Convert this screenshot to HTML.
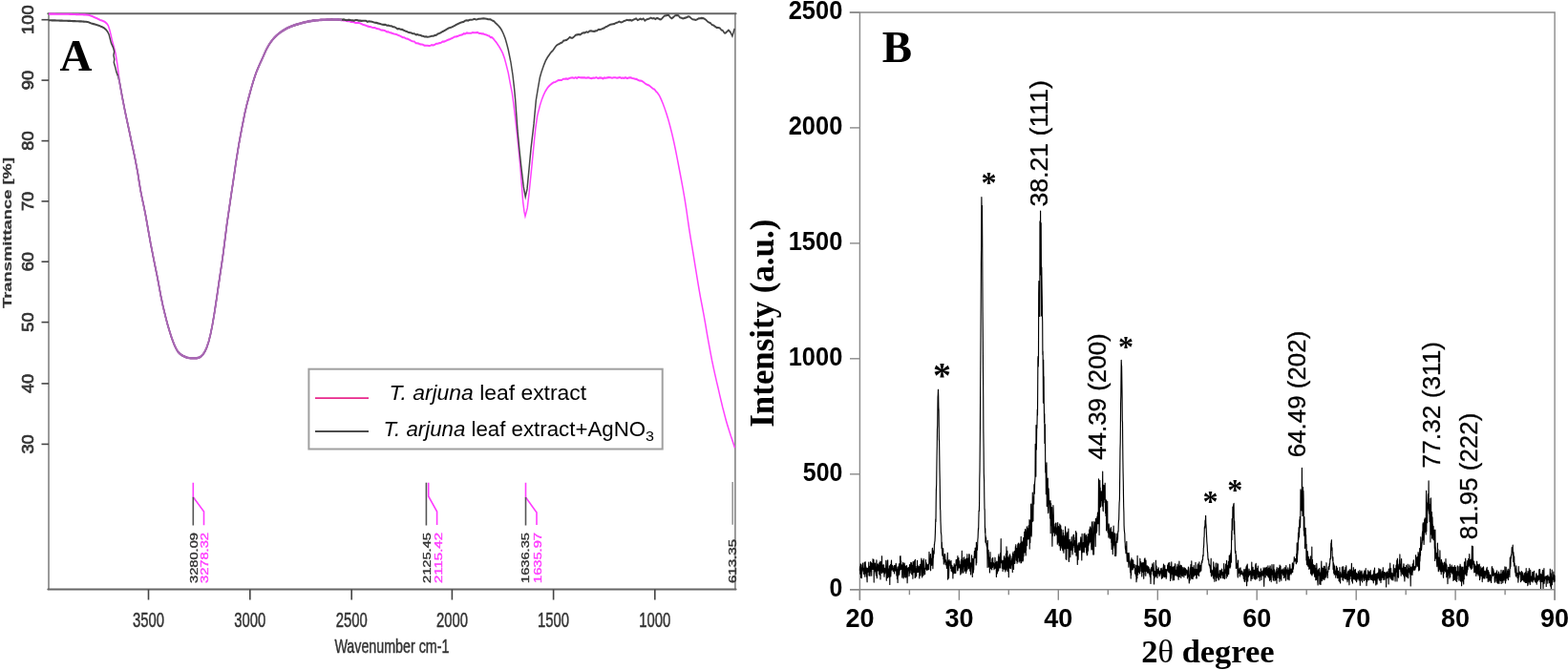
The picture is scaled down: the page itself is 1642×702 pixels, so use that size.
<!DOCTYPE html>
<html><head><meta charset="utf-8"><title>FTIR and XRD</title>
<style>html,body{margin:0;padding:0;background:#fff;overflow:hidden}svg{display:block}</style>
</head><body>
<svg width="1642" height="702" viewBox="0 0 1642 702">
<rect width="1642" height="702" fill="#fff"/>
<g fill="none" stroke-width="2" stroke-linejoin="round" stroke-linecap="round">
<path d="M51,617.4 V14.3 M769.9,14.3 V617.4" stroke="#7a7a7a" stroke-width="1.5"/>
<path d="M50.3,14.3 H770.6 M50.3,617.4 H770.6" stroke="#666"/>
</g>
<g stroke="#444" stroke-width="1.6">
<line x1="43.5" y1="20.7" x2="51" y2="20.7"/>
<line x1="43.5" y1="84.1" x2="51" y2="84.1"/>
<line x1="43.5" y1="147.6" x2="51" y2="147.6"/>
<line x1="43.5" y1="210.9" x2="51" y2="210.9"/>
<line x1="43.5" y1="274.2" x2="51" y2="274.2"/>
<line x1="43.5" y1="337.6" x2="51" y2="337.6"/>
<line x1="43.5" y1="401.9" x2="51" y2="401.9"/>
<line x1="43.5" y1="465.4" x2="51" y2="465.4"/>
</g>
<g font-family="'Liberation Sans', Arial, sans-serif" font-size="16" fill="#333" stroke="#333" stroke-width="0.7" text-anchor="middle">
<text x="0" y="0" transform="translate(34.8,20.7) rotate(-90)" textLength="30.5" lengthAdjust="spacingAndGlyphs">100</text>
<text x="0" y="0" transform="translate(34.8,84.1) rotate(-90)" textLength="20.3" lengthAdjust="spacingAndGlyphs">90</text>
<text x="0" y="0" transform="translate(34.8,147.6) rotate(-90)" textLength="20.3" lengthAdjust="spacingAndGlyphs">80</text>
<text x="0" y="0" transform="translate(34.8,210.9) rotate(-90)" textLength="20.3" lengthAdjust="spacingAndGlyphs">70</text>
<text x="0" y="0" transform="translate(34.8,274.2) rotate(-90)" textLength="20.3" lengthAdjust="spacingAndGlyphs">60</text>
<text x="0" y="0" transform="translate(34.8,337.6) rotate(-90)" textLength="20.3" lengthAdjust="spacingAndGlyphs">50</text>
<text x="0" y="0" transform="translate(34.8,401.9) rotate(-90)" textLength="20.3" lengthAdjust="spacingAndGlyphs">40</text>
<text x="0" y="0" transform="translate(34.8,465.4) rotate(-90)" textLength="20.3" lengthAdjust="spacingAndGlyphs">30</text>
</g>
<g stroke="#444" stroke-width="1.6">
<line x1="155.5" y1="617.5" x2="155.5" y2="628.5"/>
<line x1="261.8" y1="617.5" x2="261.8" y2="628.5"/>
<line x1="368.2" y1="617.5" x2="368.2" y2="628.5"/>
<line x1="473.4" y1="617.5" x2="473.4" y2="628.5"/>
<line x1="579.6" y1="617.5" x2="579.6" y2="628.5"/>
<line x1="685.8" y1="617.5" x2="685.8" y2="628.5"/>
</g>
<g font-family="'Liberation Sans', Arial, sans-serif" font-size="22" fill="#333" stroke="#333" stroke-width="0.5" text-anchor="middle">
<text x="155.5" y="656.5" textLength="33" lengthAdjust="spacingAndGlyphs">3500</text>
<text x="261.8" y="656.5" textLength="33" lengthAdjust="spacingAndGlyphs">3000</text>
<text x="368.2" y="656.5" textLength="33" lengthAdjust="spacingAndGlyphs">2500</text>
<text x="473.4" y="656.5" textLength="33" lengthAdjust="spacingAndGlyphs">2000</text>
<text x="579.6" y="656.5" textLength="33" lengthAdjust="spacingAndGlyphs">1500</text>
<text x="685.8" y="656.5" textLength="33" lengthAdjust="spacingAndGlyphs">1000</text>
<text x="410.4" y="684" font-size="21" textLength="120" lengthAdjust="spacingAndGlyphs">Wavenumber cm-1</text>
</g>
<text transform="translate(12.2,244) rotate(-90)" font-family="'Liberation Sans', Arial, sans-serif" font-size="12.5" font-weight="bold" fill="#333" stroke="#333" stroke-width="0.2" text-anchor="middle" textLength="158" lengthAdjust="spacingAndGlyphs">Transmittance [%]</text>
<g transform="scale(0.7,1)" fill="none">
<path d="M72.9,14.6 74.2,14.6 75.8,14.6 77.7,14.6 79.8,14.6 82.2,14.6 84.6,14.7 87.2,14.7 89.8,14.7 92.5,14.7 95.1,14.7 97.6,14.8 100,14.8 102.2,14.8 104.5,14.9 106.9,14.9 109.4,15 111.9,15 114.3,15.1 116.7,15.1 119.1,15.2 121.3,15.2 123.4,15.3 125.3,15.4 127.1,15.4 128.6,15.5 132.5,15.8 134,16 135.7,16.5 137.8,17 140.1,17.7 142.3,18.4 144.3,19 147.2,20 150,21 152.4,21.6 154.9,22.2 157.1,23 160,24.8 162.1,27 164.3,32 165.7,36 167.9,43 170.7,50 172.9,56 174.3,62 175.7,68 177.1,76 178.6,85 180.4,92.5 183,102.4 186.6,115 188.6,121.8 191,129.6 193.6,138.1 196.2,146.9 198.8,155.4 201.2,163.2 203.1,170 206.3,182 208.3,191.3 210.4,200 212.8,208.5 215.3,216.5 217.7,225 220.1,234.4 222.6,244.4 225.3,255 227.7,263.5 230.2,272.5 232.8,281.5 235.3,290 238.1,300.5 240.7,310.4 243.6,320 246,327.2 248.5,334.2 251.1,341 253.7,347.1 256.2,352.7 258.8,357.8 261.3,362.2 263.9,365.9 266.3,368.6 268.7,370.4 271.2,371.8 274,372.9 276,373.6 278.2,374.2 280.5,374.7 282.8,375 285.2,375.2 287.4,375.3 289.7,375.3 292.1,375.3 294.5,375.1 296.8,374.7 298.9,374.2 300.9,373.4 304.1,371 306.9,367.8 309.3,364 312.3,357.7 315,350 317.6,341 320.3,330 322.3,320.9 324.5,310.7 326.7,300 329.1,288.5 331.7,276.5 334,265 336.6,250.6 339.4,235 341.6,224.5 344.1,212.5 346.6,200.5 348.9,190 351.2,178.7 353.2,169.1 355.3,160 357.4,151 359.6,142.4 361.9,134 364.1,126.1 366.3,118.4 369.1,110 371.3,104.2 373.7,98 376.2,91.6 378.8,85.5 381.3,80 383.7,75.2 386.3,70.9 388.7,67 391.1,63.4 393.3,60 395.6,56.3 397.6,53.1 399.6,50.3 401.9,47.5 403.9,45.3 406,43.3 408.2,41.3 410.6,39.4 413.1,37.6 415.1,36.3 417.2,35.1 419.5,33.9 421.7,32.8 424.1,31.7 426.5,30.7 428.9,29.8 431,29.1 433.1,28.4 435.2,27.8 437.4,27.2 439.6,26.6 441.9,26.1 444.2,25.6 446.7,25.1 448.7,24.7 450.8,24.3 452.8,23.9 454.9,23.5 457.1,23.1 459.3,22.8 461.6,22.4 464,22.1 466.5,21.9 469.1,21.6 471.1,21.4 473.3,21.3 475.5,21.1 477.8,21 480.2,20.9 482.6,20.8 485.1,20.7 487.5,20.6 489.9,20.5 492.2,20.5 494.4,20.4 496.6,20.4 498.6,20.4 500.4,20.4 503.3,20.5 505.9,20.6 508.2,20.7 510.3,20.9 512.3,21.2 514.2,21.4 516.3,21.3 518.4,22 520.6,22.1 522.8,22.3 524.9,22.9 527.1,22.9 529.3,23.1 531.5,24 533.8,23.8 536.3,24 538.4,24.3 540.5,24.9 542.8,25.7 545.1,26.2 547.4,26.7 549.7,27.4 552,27.9 554.3,28.1 556.6,28.7 558.7,29 561,29.1 563.3,29.9 565.5,30.2 567.6,30.5 569.8,31.5 571.9,31.6 574.1,31.7 576.3,32.3 578.6,33.4 580.7,33.2 582.8,34 585,34.4 587.2,34.9 589.5,35.5 591.7,35.7 593.8,36.3 596,36.9 598,37.4 600,38.2 602.4,39.1 604.7,39.2 607,40.2 609.2,40.6 611.3,41.3 613.4,42.1 615.3,42.8 617.1,43.2 619.8,43.4 622,45.1 624.1,45.2 626.2,45.6 628.6,46.4 630.6,46.5 632.7,46.7 634.7,47.6 637,47.8 639.4,47.7 642,48 643.9,47.7 646,47.1 648.1,47.5 650.4,46.7 652.7,45.8 655,45.7 657.4,45.1 659.8,44.7 662.1,43.6 664.3,43.6 666.5,43 668.7,42.3 670.9,41.6 673.2,41.1 675.5,40.2 677.8,39.4 680,38.5 682.3,38.4 684.6,37.9 686.8,37.2 689.1,36.7 691.4,36.4 693.8,35.2 696.1,35.5 698.4,34.4 700.6,34.8 702.8,34.8 704.9,34.8 707,34.1 709.5,34.3 711.9,34.2 714.3,33.9 716.7,34.9 718.9,35 721,35.4 723,35.4 724.9,36 727.5,36.5 729.8,37.3 731.8,37.6 733.8,39.1 735.7,39.1 738.2,40.7 740.5,42.7 742.7,44.6 744.9,46.9 747.5,49.8 750,52.8 752.1,55.9 754.7,61 756.7,66.2 760.4,76.4 763.1,86.7 766,96.9 768.3,108.5 770.5,121.2 773,137 775.7,155 778.3,174 782.3,211 784.3,222 785.7,226.5 787.1,223 788.9,218 791.6,201.9 795.6,174 799.4,146.3 801.1,135 803.9,121.2 808,109.8 810.4,104.6 813,99.9 815.8,95.7 819.1,92 821.1,90.4 823.3,88.8 825.7,87.5 828.3,86.3 830.5,86 832.7,85.1 835.1,84.1 837.7,84 840.4,83.9 842.5,82.7 844.7,82.8 847,82.4 849.4,82.8 851.8,82 854.3,81.5 856.7,81.2 858.8,81.9 861,81.1 863.1,82 865.2,80.8 867.5,81.3 869.8,81.4 872.2,81.3 874.9,81.4 876.8,81.7 878.9,81.4 880.9,81.2 883.1,82 885.2,82.1 887.5,81.5 889.8,81.8 892.2,81 894.7,82.1 897.3,81.4 900,81.6 902,82.5 904,81.4 906.2,81.8 908.5,81.4 910.9,81.1 913.3,81.3 915.7,81.7 918.1,81.2 920.5,81.3 922.9,81.7 925.2,81.4 927.5,81 929.7,81.9 931.7,81.5 933.7,81.9 935.4,81.2 938.6,82.1 941.3,81.3 943.8,81.4 946,82 948.1,82.2 950.1,82.7 952.1,82.9 954.3,83.7 956.5,84.5 958.8,84.6 961.1,85.2 963.3,86.3 965.4,87.6 967.5,88.5 969.5,89 971.4,89.7 974.2,91.3 976.8,92.9 979.2,93.7 981.5,95.8 983.6,97.2 986.6,100.4 989.1,104.1 991.7,108.5 994.4,113.6 997.1,119.3 999.9,125.6 1002.6,132.6 1005.3,140.2 1008,148.4 1010.7,157.4 1013.4,167 1016.1,176.9 1018.9,187.1 1021.7,197.7 1024.3,208.2 1026.7,219 1028.9,229.9 1030.9,239.5 1033.1,249.2 1035.7,260 1037.8,268.9 1040.2,279.4 1042.7,290.2 1045,300 1047.6,310.4 1050.1,319.6 1052.9,330 1055.3,339.5 1057.8,350 1060.5,360.5 1063,370 1065.2,378 1067.3,385 1069.5,392 1072.1,400 1074.2,406.2 1076.4,413 1078.8,420.1 1081.2,427.1 1083.7,433.8 1086,440 1088.4,445.8 1091,451.6 1093.5,457.1 1095.9,462 1097.8,466.1 1099.3,469.2" stroke="#ff40ff" stroke-width="2.1"/>
<path d="M72.9,21.3 74.2,21.3 75.8,21.3 77.7,21.4 79.8,21.4 82.2,21.4 84.6,21.5 87.2,21.5 89.8,21.6 92.5,21.6 95.1,21.7 97.6,21.7 100,21.8 102.2,21.9 104.5,21.9 106.9,22 109.4,22.1 111.9,22.1 114.3,22.2 116.7,22.3 119.1,22.4 121.3,22.4 123.4,22.5 125.3,22.6 127.1,22.7 128.6,22.8 132.5,23.3 134,23.8 135.7,24.3 137.8,24.7 139.9,25.1 142.1,25.5 144.3,26 146.5,26.5 148.8,27.1 150.9,27.7 152.9,28.3 156,29.5 158.6,31 160.9,33.1 162.9,36 166.3,45 169.4,50 170.9,54 169.9,58 171.1,62 170.4,65.5 172.3,70 174,75 176.3,79.5 178.6,85 180.5,92.3 183.1,102.2 186.6,115 188.6,121.8 191,129.6 193.6,138.1 196.2,146.9 198.8,155.4 201.2,163.2 203.1,170 206.3,182 208.3,191.3 210.4,200 212.8,208.5 215.3,216.5 217.7,225 220.1,234.4 222.6,244.4 225.3,255 227.7,263.5 230.2,272.5 232.8,281.5 235.3,290 238.1,300.5 240.7,310.4 243.6,320 246,327.2 248.5,334.2 251.1,341 253.7,347.1 256.2,352.7 258.8,357.8 261.3,362.2 263.9,365.9 266.3,368.6 268.7,370.4 271.2,371.8 274,372.9 276,373.6 278.2,374.2 280.5,374.7 282.8,375 285.2,375.2 287.4,375.3 289.7,375.3 292.1,375.3 294.5,375.1 296.8,374.7 298.9,374.2 300.9,373.4 304.1,371 306.9,367.8 309.3,364 312.3,357.7 315,350 317.6,341 320.3,330 322.3,320.9 324.5,310.7 326.7,300 329.1,288.5 331.7,276.5 334,265 336.6,250.6 339.4,235 341.6,224.5 344.1,212.5 346.6,200.5 348.9,190 351.2,178.7 353.2,169.1 355.3,160 357.4,151 359.6,142.4 361.9,134 364.1,126.1 366.3,118.4 369.1,110 371.3,104.2 373.7,98 376.2,91.6 378.8,85.5 381.3,80 383.7,75.2 386.3,70.9 388.7,67 391.1,63.4 393.3,60 395.6,56.3 397.6,53.1 399.6,50.3 401.9,47.5 403.9,45.3 406,43.3 408.2,41.3 410.6,39.4 413.1,37.6 415.1,36.3 417.2,35.1 419.5,33.9 421.7,32.8 424.1,31.7 426.5,30.7 428.9,29.8 431,29.1 433.1,28.4 435.2,27.8 437.4,27.2 439.6,26.6 441.9,26.1 444.2,25.6 446.7,25.1 448.7,24.7 450.8,24.3 452.8,23.9 454.9,23.5 457.1,23.1 459.3,22.8 461.6,22.4 464,22.1 466.5,21.9 469.1,21.6 471.1,21.4 473.2,21.3 475.4,21.2 477.6,21 479.9,20.9 482.3,20.8 484.6,20.7 487,20.7 489.4,20.6 491.7,20.5 494,20.5 496.2,20.4 498.4,20.4 500.4,20.4 502.9,20.4 505.4,20.4 507.7,20.5 510,20.5 512.2,20.6 514.4,20.4 516.6,20.9 518.8,21.2 520.9,20.9 523,20.8 525.1,21.2 527.5,21.4 529.8,21.6 532,21 534.2,21 536.4,21.6 538.6,21.6 540.8,21.9 543,21.8 545.2,21.7 547.4,21.8 549.7,22.8 551.9,22.3 554.1,22.5 556.4,22.7 558.6,23.3 560.9,23.7 563.1,23.9 565.4,24.4 567.6,24.8 569.9,25.3 572.1,25.7 574.3,25.9 576.6,25.7 578.8,26.7 581.1,26.6 583.3,27.2 585.6,27.3 587.8,28.1 590,28.3 592.3,29.1 594.6,30.3 596.9,30 599.2,30.8 601.6,30.9 604,31.8 606.3,32.6 608.5,33 610.6,33.7 612.7,34.1 614.6,34.2 617.4,35.2 620,35.3 622.4,36.4 624.6,36.1 626.6,36.7 628.6,36.8 631.1,37.6 633.1,37.7 635.1,38.5 637.6,38.4 639.5,38.7 641.4,38.5 643.5,38.2 645.7,37.7 648.2,37.7 651,36.9 652.9,36.7 654.9,35.5 657,35 659.3,34.2 661.6,33.3 663.9,32.4 666.3,31.5 668.7,30.5 671,29.5 673.3,28.9 675.5,28.4 677.8,27.8 680,26.9 682.2,26.1 684.5,25.3 686.7,24.5 689,23.7 691.2,23.2 693.5,22.9 695.7,21.8 698,21.3 700.3,21.6 702.7,20.8 705,20.7 707.3,20.5 709.7,19.8 711.9,20.5 714.1,20.2 716.2,19.7 718.1,19.8 720.8,19.5 723.3,19.3 725.7,19.5 727.9,19.7 730,20.1 732,20.2 733.9,20.4 736.6,21.6 738.9,22.2 741,23.9 743,25.1 745.7,27 748.2,29.1 750.4,31.5 753.3,35.7 755.9,40.5 758.2,46.1 760.4,52.1 764.1,64.9 766.9,77.7 769.3,92 770.9,104 774.3,137 776.9,156.2 779.6,174 783.3,196 786,206 788.6,198 791.6,176 794.4,155 798.6,130 801.9,105 804.7,93 807.6,81.4 809.8,75.9 812.4,70.5 814.2,67.1 816.2,63.7 819.1,60 820.9,58.2 822.8,56.3 825,54.3 827.3,52.8 829.7,50.2 832.2,47.8 834.6,46.6 836.7,45.9 838.8,45 840.9,44.6 843.1,42.6 845.3,42.3 847.6,41.9 850,40.7 852.4,38.9 854.5,39.7 856.6,39.7 858.9,38.4 861.1,36.8 863.4,36.4 865.8,36 868.1,36.4 870.4,35 872.7,34.2 875,34.4 877.3,33.3 879.6,33.9 882,32.5 884.3,32.4 886.6,32.8 888.9,32.9 891.2,32.4 893.4,32 895.5,30.8 897.4,31 899.9,30.4 902.1,29.7 904,29.4 906,28.2 908,27.8 910.4,26.7 913.1,25.8 915,25.5 917.1,25.2 919.3,24.9 921.6,23.9 924,23.5 926.4,22.6 928.9,23.5 931.3,23 933.7,21.9 935.9,21.4 938,20.8 940,21.2 942.7,20.9 945.1,21.6 947.4,20.7 949.6,20.1 951.7,19.4 953.8,21.1 955.8,20.5 957.9,19.7 960.2,20.4 962.5,19.4 964.7,21.6 967,20.4 969.2,20 971.4,19.6 973.6,18.6 975.9,19.5 978.2,19 980.6,20 982.9,18.9 985.2,19.5 987.3,20.4 989.1,20.3 991.9,18.1 994.2,16.5 996.2,16.4 998.1,15.8 1000.5,16 1002.6,18.2 1004.9,19.3 1007.4,18 1010,16.2 1012.7,16 1014.9,16.3 1017.1,18.3 1019.4,18.7 1021.6,19.5 1024.1,18.9 1026.6,18.4 1029.4,17.4 1031.5,17.5 1033.8,19.2 1036.2,20.2 1038.6,20.5 1040.7,21 1043.1,20.3 1045.3,19.4 1047.4,19.2 1049.6,18.9 1051.8,19.1 1053.9,19.8 1056.2,20.9 1058.6,22.7 1060.7,23.6 1062.9,24.3 1065.1,26.1 1067.4,26.5 1069.7,27.7 1072.1,28.9 1074.5,29 1077,29.5 1079.2,31.6 1081,31.8 1083.6,34.4 1085.4,34.7 1087.6,33.1 1089.9,31.6 1092.8,33.8 1095.6,37.9 1098.9,29.8" stroke="#454545" stroke-width="2.1"/>
<path d="M177.1,79 178.6,85 180.4,92.3 183,102.3 186.6,115 188.6,121.8 191,129.6 193.6,138.1 196.2,146.9 198.8,155.4 201.2,163.2 203.1,170 206.3,182 208.3,191.3 210.4,200 212.8,208.5 215.3,216.5 217.7,225 220.1,234.4 222.6,244.4 225.3,255 227.7,263.5 230.2,272.5 232.8,281.5 235.3,290 238.1,300.5 240.7,310.4 243.6,320 246,327.2 248.5,334.2 251.1,341 253.7,347.1 256.2,352.7 258.8,357.8 261.3,362.2 263.9,365.9 266.3,368.6 268.7,370.4 271.2,371.8 274,372.9 276,373.6 278.2,374.2 280.5,374.7 282.8,375 285.2,375.2 287.4,375.3 289.7,375.3 292.1,375.3 294.5,375.1 296.8,374.7 298.9,374.2 300.9,373.4 304.1,371 306.9,367.8 309.3,364 312.3,357.7 315,350 317.6,341 320.3,330 322.3,320.9 324.5,310.7 326.7,300 329.1,288.5 331.7,276.5 334,265 336.6,250.6 339.4,235 341.6,224.5 344.1,212.5 346.6,200.5 348.9,190 351.2,178.7 353.2,169.1 355.3,160 357.4,151 359.6,142.4 361.9,134 364.1,126.1 366.3,118.4 369.1,110 371.3,104.2 373.7,98 376.2,91.6 378.8,85.5 381.3,80 383.7,75.2 386.3,70.9 388.7,67 391.1,63.4 393.3,60 395.6,56.3 397.6,53.1 399.6,50.3 401.9,47.5 403.9,45.3 406,43.3 408.2,41.3 410.6,39.4 413.1,37.6 415.1,36.3 417.2,35.1 419.5,33.9 421.7,32.8 424.1,31.7 426.5,30.7 428.9,29.8 431,29.1 433.1,28.4 435.2,27.8 437.4,27.2 439.6,26.6 441.9,26.1 444.2,25.6 446.7,25.1 448.7,24.7 450.8,24.3 452.8,23.9 454.9,23.5 457.1,23.1 459.3,22.8 461.6,22.4 464,22.1 466.5,21.9 469.1,21.6 471.2,21.4 473.3,21.3 475.6,21.2 478,21 480.5,20.9 483,20.8 485.5,20.7 488,20.7 490.4,20.6 492.7,20.5 494.9,20.5 496.9,20.5 498.8,20.4 500.4,20.4 504.1,20.4 506.8,20.5 508.8,20.7 510.3,20.9 511.4,21" stroke="#a868b4" stroke-width="2.6"/>
</g>
<g fill="none" stroke-width="1.6">
<path d="M202.3,505.7 V520.8 L213.5,536 V550.2" stroke="#ff3cff"/>
<path d="M202.3,520.8 V550.5" stroke="#555"/>
<path d="M446.4,505.7 V550.5" stroke="#555"/>
<path d="M448.7,505.7 V520 L457.6,536 V550" stroke="#ff3cff"/>
<path d="M550.5,505.7 V521 L562,537 V550" stroke="#ff3cff"/>
<path d="M550.5,521 V550.5" stroke="#555"/>
<path d="M767.2,505 V549.7" stroke="#999"/>
</g>
<g font-family="'Liberation Sans', Arial, sans-serif" font-size="10.3" stroke-width="0.35">
<text transform="translate(206.7,611) rotate(-90)" fill="#333" stroke="#333" textLength="53" lengthAdjust="spacingAndGlyphs">3280.09</text>
<text transform="translate(218.3,611) rotate(-90)" fill="#ff3cff" stroke="#ff3cff" textLength="53" lengthAdjust="spacingAndGlyphs">3278.32</text>
<text transform="translate(451.4,611) rotate(-90)" fill="#333" stroke="#333" textLength="53" lengthAdjust="spacingAndGlyphs">2125.45</text>
<text transform="translate(463,611) rotate(-90)" fill="#ff3cff" stroke="#ff3cff" textLength="53" lengthAdjust="spacingAndGlyphs">2115.42</text>
<text transform="translate(554,611) rotate(-90)" fill="#333" stroke="#333" textLength="53" lengthAdjust="spacingAndGlyphs">1636.35</text>
<text transform="translate(566.5,611) rotate(-90)" fill="#ff3cff" stroke="#ff3cff" textLength="53" lengthAdjust="spacingAndGlyphs">1635.97</text>
<text transform="translate(771,611) rotate(-90)" fill="#333" stroke="#333" textLength="46" lengthAdjust="spacingAndGlyphs">613.35</text>
</g>
<rect x="323.4" y="386.7" width="370.3" height="83.8" fill="#fff" stroke="#a0a0a0" stroke-width="2"/>
<line x1="330" y1="417.1" x2="386" y2="417.1" stroke="#e8288c" stroke-width="1.6"/>
<line x1="330" y1="452" x2="386" y2="452" stroke="#111" stroke-width="1.6"/>
<g font-family="'Liberation Sans', Calibri, sans-serif" font-size="21.5" fill="#000">
<text x="407.6" y="418.9" textLength="206.5" lengthAdjust="spacingAndGlyphs"><tspan font-style="italic">T. arjuna</tspan> leaf extract</text>
<text x="401.5" y="456.5" textLength="283.5" lengthAdjust="spacingAndGlyphs"><tspan font-style="italic">T. arjuna</tspan> leaf extract+AgNO<tspan font-size="15.5" dy="5.5">3</tspan></text>
</g>
<text x="62.4" y="74.3" font-family="'Liberation Serif', 'Times New Roman', serif" font-weight="bold" font-size="47">A</text>
<g fill="none" stroke="#8a8a8a" stroke-width="1.4">
<path d="M889.7,13 H1628.1 V628.8"/>
<path d="M900.4,13 V628.8"/>
<path d="M890,617.7 H1628.1"/>
<path d="M890,617.7 H900.4"/>
<path d="M890,496.8 H900.4"/>
<path d="M890,375.8 H900.4"/>
<path d="M890,254.9 H900.4"/>
<path d="M890,133.9 H900.4"/>
<path d="M890,13 H900.4"/>
<path d="M900.4,617.7 V628.8"/>
<path d="M952.4,617.7 V623.2"/>
<path d="M1004.4,617.7 V628.8"/>
<path d="M1056.3,617.7 V623.2"/>
<path d="M1108.3,617.7 V628.8"/>
<path d="M1160.3,617.7 V623.2"/>
<path d="M1212.3,617.7 V628.8"/>
<path d="M1264.2,617.7 V623.2"/>
<path d="M1316.2,617.7 V628.8"/>
<path d="M1368.2,617.7 V623.2"/>
<path d="M1420.2,617.7 V628.8"/>
<path d="M1472.2,617.7 V623.2"/>
<path d="M1524.1,617.7 V628.8"/>
<path d="M1576.1,617.7 V623.2"/>
<path d="M1628.1,617.7 V628.8"/>
</g>
<g font-family="'Liberation Sans', Arial, sans-serif" font-weight="bold" font-size="27" fill="#000">
<text x="868.5" y="625" font-size="28" textLength="13.8" lengthAdjust="spacingAndGlyphs">0</text>
<text x="840.8" y="504.1" font-size="28" textLength="41.5" lengthAdjust="spacingAndGlyphs">500</text>
<text x="825.7" y="383.1" font-size="28" textLength="56.6" lengthAdjust="spacingAndGlyphs">1000</text>
<text x="825.7" y="262.2" font-size="28" textLength="56.6" lengthAdjust="spacingAndGlyphs">1500</text>
<text x="825.7" y="141.2" font-size="28" textLength="56.6" lengthAdjust="spacingAndGlyphs">2000</text>
<text x="825.7" y="20.3" font-size="28" textLength="56.6" lengthAdjust="spacingAndGlyphs">2500</text>
<text x="900.4" y="657.4" text-anchor="middle">20</text>
<text x="1004.4" y="657.4" text-anchor="middle">30</text>
<text x="1108.3" y="657.4" text-anchor="middle">40</text>
<text x="1212.3" y="657.4" text-anchor="middle">50</text>
<text x="1316.2" y="657.4" text-anchor="middle">60</text>
<text x="1420.2" y="657.4" text-anchor="middle">70</text>
<text x="1524.1" y="657.4" text-anchor="middle">80</text>
<text x="1628.1" y="657.4" text-anchor="middle">90</text>
</g>
<text x="1195.3" y="694.1" font-family="'Liberation Serif', 'Times New Roman', serif" font-weight="bold" font-size="34" textLength="139.3" lengthAdjust="spacingAndGlyphs">2<tspan font-weight="normal">θ</tspan> degree</text>
<text transform="translate(809.7,447.7) rotate(-90)" font-family="'Liberation Serif', 'Times New Roman', serif" font-weight="bold" font-size="35" textLength="218" lengthAdjust="spacingAndGlyphs">Intensity (a.u.)</text>
<text x="923.8" y="64.6" font-family="'Liberation Serif', 'Times New Roman', serif" font-weight="bold" font-size="47">B</text>
<path d="M900.4,597.7 900.6,593.6 900.8,601.3 901,597.5 901.2,590.8 901.4,595 901.6,605.2 901.9,591.8 902.1,605.4 902.3,605.7 902.5,594.7 902.7,596.6 902.9,594.7 903.1,594.2 903.3,593.4 903.5,590 903.7,598.2 903.9,596.9 904.1,598.7 904.4,601.5 904.6,600.7 904.8,595.1 905,596.1 905.2,589.4 905.4,596.9 905.6,600.7 905.8,604.2 906,591.9 906.2,588.7 906.4,594.4 906.6,593.1 906.8,599.6 907.1,601.5 907.3,599.2 907.5,604.2 907.7,595.1 907.9,606.5 908.1,609.8 908.3,596.6 908.5,599.5 908.7,595.6 908.9,596.1 909.1,599.2 909.3,594.9 909.5,598 909.8,589.1 910,603 910.2,600.7 910.4,593.8 910.6,594.5 910.8,593.7 911,603.5 911.2,600.6 911.4,593.9 911.6,588.6 911.8,598.8 912,597.2 912.3,598 912.5,589.7 912.7,603.2 912.9,590.4 913.1,591.8 913.3,595.6 913.5,593.3 913.7,593.4 913.9,596.4 914.1,585.7 914.3,594.7 914.5,596.5 914.7,591.5 915,586.6 915.2,610.1 915.4,594.3 915.6,595.1 915.8,598 916,590.2 916.2,598.4 916.4,590 916.6,595.3 916.8,597.8 917,600.3 917.2,595.5 917.4,602.9 917.7,594.8 917.9,586.8 918.1,593 918.3,605.7 918.5,602 918.7,592.2 918.9,595.7 919.1,590.8 919.3,598 919.5,591.6 919.7,597.8 919.9,595.2 920.2,593 920.4,593.2 920.6,601.6 920.8,589.7 921,592.5 921.2,596.4 921.4,602.5 921.6,601.2 921.8,588.1 922,606.9 922.2,588.9 922.4,594.3 922.6,594.3 922.9,590.4 923.1,588.5 923.3,600.4 923.5,582.7 923.7,597.8 923.9,591.2 924.1,598.7 924.3,595.5 924.5,592.5 924.7,600 924.9,598.6 925.1,592.2 925.3,599.1 925.6,591.9 925.8,599.6 926,604.2 926.2,598.2 926.4,595.4 926.6,599.6 926.8,600.9 927,598.1 927.2,595.9 927.4,598.9 927.6,598 927.8,587.4 928.1,595.7 928.3,608.2 928.5,602.8 928.7,596.7 928.9,602.4 929.1,597.7 929.3,587.4 929.5,605.4 929.7,586.9 929.9,600 930.1,598.4 930.3,595.7 930.5,601 930.8,604.6 931,598.1 931.2,604.1 931.4,592.8 931.6,597.2 931.8,612.5 932,595.2 932.2,602.3 932.4,593.8 932.6,591.5 932.8,604 933,600.1 933.3,589.9 933.5,587.1 933.7,597.3 933.9,596.6 934.1,594.9 934.3,592.6 934.5,592.4 934.7,596.6 934.9,593.4 935.1,597.1 935.3,598.6 935.5,598.3 935.7,595.5 936,595.7 936.2,598.5 936.4,592.6 936.6,600.9 936.8,592.7 937,598.3 937.2,596.2 937.4,593.9 937.6,595 937.8,592 938,598 938.2,590.3 938.4,591.9 938.7,597.1 938.9,603.1 939.1,594.1 939.3,597.4 939.5,606.5 939.7,596.1 939.9,602.2 940.1,610.4 940.3,598.4 940.5,603.7 940.7,593.8 940.9,595.5 941.2,596.5 941.4,593.2 941.6,590.9 941.8,602.2 942,598 942.2,590.7 942.4,597.5 942.6,582.8 942.8,595.9 943,582.5 943.2,591.1 943.4,596.3 943.6,587.8 943.9,596.6 944.1,594.1 944.3,591.9 944.5,595.7 944.7,605.1 944.9,598 945.1,592.5 945.3,600 945.5,591.3 945.7,589.4 945.9,590.6 946.1,606 946.3,595.2 946.6,599 946.8,591.4 947,604.6 947.2,590 947.4,601.4 947.6,593.5 947.8,595.8 948,592.8 948.2,602.2 948.4,605.1 948.6,593.7 948.8,604.8 949.1,597.4 949.3,597.9 949.5,592.5 949.7,594.4 949.9,597.2 950.1,610.8 950.3,604.3 950.5,595.2 950.7,597.6 950.9,597.9 951.1,596.4 951.3,596.5 951.5,594.6 951.8,599.1 952,603.7 952.2,602.1 952.4,594.9 952.6,591.5 952.8,592.7 953,593.7 953.2,600.2 953.4,594.8 953.6,594.4 953.8,589.3 954,593.4 954.2,597 954.5,589.8 954.7,601.6 954.9,597.2 955.1,602 955.3,595.8 955.5,598.7 955.7,592.1 955.9,606.3 956.1,588.5 956.3,599.8 956.5,599.8 956.7,592.2 957,599.7 957.2,591.6 957.4,587.8 957.6,589.9 957.8,596 958,591.7 958.2,605.4 958.4,586.3 958.6,604 958.8,604.7 959,596.2 959.2,597.6 959.4,595.7 959.7,603.6 959.9,593.3 960.1,597.1 960.3,598.4 960.5,587.3 960.7,598.3 960.9,599.6 961.1,594.2 961.3,592.9 961.5,599.5 961.7,595.6 961.9,598.5 962.2,594.7 962.4,596.9 962.6,593.6 962.8,605.9 963,600.4 963.2,601.2 963.4,592.1 963.6,591.4 963.8,593.8 964,603.1 964.2,595.6 964.4,595.9 964.6,591.3 964.9,585.1 965.1,589.1 965.3,593.5 965.5,601.1 965.7,604.9 965.9,587.2 966.1,591 966.3,595.8 966.5,603.3 966.7,596.2 966.9,600.6 967.1,602.4 967.3,585.5 967.6,592.4 967.8,597.6 968,598.4 968.2,600.3 968.4,601.1 968.6,601.8 968.8,595.6 969,595.1 969.2,594.8 969.4,586.5 969.6,596.2 969.8,593.7 970.1,589.8 970.3,594.3 970.5,592.7 970.7,597.6 970.9,591.5 971.1,593.3 971.3,591.9 971.5,594.9 971.7,596.6 971.9,596.9 972.1,593 972.3,591 972.5,596.4 972.8,596.4 973,578.4 973.2,591 973.4,585.8 973.6,588.1 973.8,586.7 974,589.9 974.2,589.4 974.4,580.6 974.6,597.8 974.8,585 975,591.9 975.2,589.3 975.5,590.4 975.7,592.3 975.9,585 976.1,581.5 976.3,574.9 976.5,574.3 976.7,580.1 976.9,595.7 977.1,590.1 977.3,582.3 977.5,584.2 977.7,577 978,577.3 978.2,580.1 978.4,570.4 978.6,570.4 978.8,567.7 979,567.1 979.2,563 979.4,558 979.6,550.9 979.8,543.9 980,546.6 980.2,526.9 980.4,513.4 980.7,507.6 980.9,491.5 981.1,477.8 981.3,467.2 981.5,449.2 981.7,446 981.9,430 982.1,416 982.3,413 982.5,408.2 982.7,414.3 982.9,427 983.1,429.8 983.4,460.6 983.6,462.3 983.8,477.4 984,492.8 984.2,502.1 984.4,517 984.6,533.1 984.8,534.8 985,545.9 985.2,550.9 985.4,558.3 985.6,558.6 985.9,561.7 986.1,574.7 986.3,568 986.5,573.5 986.7,579.5 986.9,582.1 987.1,579.4 987.3,579.7 987.5,582 987.7,574.6 987.9,585.8 988.1,580.3 988.3,591.1 988.6,583.6 988.8,588.1 989,586.3 989.2,582.1 989.4,588.8 989.6,580.5 989.8,583.8 990,589.2 990.2,591.5 990.4,586.5 990.6,587.9 990.8,589.7 991.1,592.7 991.3,593.2 991.5,595.5 991.7,589 991.9,594.7 992.1,585 992.3,579.2 992.5,607.1 992.7,597.2 992.9,587.6 993.1,596.2 993.3,588 993.5,605.8 993.8,595.6 994,586.3 994.2,588.9 994.4,590.4 994.6,589.6 994.8,588.3 995,589.3 995.2,592.6 995.4,590.8 995.6,595.5 995.8,593.5 996,587.3 996.2,598.3 996.5,593 996.7,597.8 996.9,592.3 997.1,597.2 997.3,599.5 997.5,594.7 997.7,596 997.9,606 998.1,594.1 998.3,595.8 998.5,600 998.7,598.4 999,600.8 999.2,590.7 999.4,597.8 999.6,599.1 999.8,598.8 1000,593.2 1000.2,600.5 1000.4,592.1 1000.6,592.6 1000.8,600.6 1001,592 1001.2,586.5 1001.4,590 1001.7,588.2 1001.9,592.2 1002.1,587.2 1002.3,586.2 1002.5,593 1002.7,597.8 1002.9,582.5 1003.1,597.8 1003.3,592.6 1003.5,595.3 1003.7,588 1003.9,584.5 1004.1,590.3 1004.4,589.2 1004.6,594.9 1004.8,587.8 1005,593 1005.2,591.4 1005.4,591.7 1005.6,596.4 1005.8,602.1 1006,595.8 1006.2,601.2 1006.4,596.8 1006.6,586.4 1006.9,594.6 1007.1,595.8 1007.3,577.2 1007.5,593.6 1007.7,600.2 1007.9,584.2 1008.1,591 1008.3,586.7 1008.5,594.8 1008.7,592.5 1008.9,594 1009.1,600.1 1009.3,591.1 1009.6,583.8 1009.8,588.6 1010,593.7 1010.2,592.6 1010.4,586.3 1010.6,598.3 1010.8,598.2 1011,593.5 1011.2,590.3 1011.4,586.6 1011.6,600.6 1011.8,585.2 1012,592.7 1012.3,597.1 1012.5,598.1 1012.7,593 1012.9,580.7 1013.1,596.5 1013.3,590.6 1013.5,585.6 1013.7,592.2 1013.9,590.2 1014.1,585.1 1014.3,591.1 1014.5,595.8 1014.8,580.7 1015,588.6 1015.2,580.9 1015.4,591.6 1015.6,592.2 1015.8,598.2 1016,591.5 1016.2,589.9 1016.4,595.2 1016.6,602 1016.8,597.1 1017,593 1017.2,591.5 1017.5,581.9 1017.7,589.6 1017.9,590.8 1018.1,590.5 1018.3,604.4 1018.5,585.4 1018.7,592.9 1018.9,595.4 1019.1,595.6 1019.3,600 1019.5,585.6 1019.7,597 1020,583.2 1020.2,584.6 1020.4,577.5 1020.6,584.8 1020.8,584 1021,583.4 1021.2,574.1 1021.4,580.7 1021.6,582.9 1021.8,584.4 1022,575.6 1022.2,592 1022.4,568.2 1022.7,589.7 1022.9,575.5 1023.1,573.4 1023.3,571.5 1023.5,576.2 1023.7,569.8 1023.9,565.3 1024.1,563.3 1024.3,557.7 1024.5,553.6 1024.7,554.6 1024.9,543.3 1025.1,535.2 1025.4,535.5 1025.6,527.3 1025.8,502 1026,493.4 1026.2,470.9 1026.4,449.2 1026.6,416.4 1026.8,387.2 1027,356.2 1027.2,317.6 1027.4,276.9 1027.6,257.1 1027.9,206.5 1028.1,221.5 1028.3,229.3 1028.5,215.2 1028.7,246.9 1028.9,293.1 1029.1,327.7 1029.3,353.8 1029.5,389.9 1029.7,414.3 1029.9,453.1 1030.1,469.5 1030.3,496.1 1030.6,503.6 1030.8,521.6 1031,533.2 1031.2,534.7 1031.4,551.1 1031.6,558.3 1031.8,553.6 1032,568.2 1032.2,561.6 1032.4,568.1 1032.6,563.2 1032.8,569.2 1033,570.3 1033.3,572.5 1033.5,569.8 1033.7,577.2 1033.9,581.3 1034.1,594.4 1034.3,566.3 1034.5,585 1034.7,579.7 1034.9,580.3 1035.1,576.3 1035.3,580.7 1035.5,593.9 1035.8,588 1036,584 1036.2,586.1 1036.4,599.9 1036.6,586 1036.8,593.1 1037,578.5 1037.2,594.5 1037.4,591.1 1037.6,595.6 1037.8,589.6 1038,589.9 1038.2,590.1 1038.5,596.8 1038.7,596.8 1038.9,586.1 1039.1,585.1 1039.3,590.5 1039.5,594.4 1039.7,584.4 1039.9,592.7 1040.1,590.2 1040.3,592.2 1040.5,589.8 1040.7,591 1041,596.8 1041.2,595.9 1041.4,590.6 1041.6,592.2 1041.8,595.4 1042,584.2 1042.2,590.5 1042.4,590.8 1042.6,589.4 1042.8,591.8 1043,595.4 1043.2,590.8 1043.4,604.5 1043.7,588.2 1043.9,595.9 1044.1,588.3 1044.3,601 1044.5,594.2 1044.7,591.8 1044.9,597.4 1045.1,598.7 1045.3,592.3 1045.5,582.8 1045.7,597.4 1045.9,580.8 1046.1,590.3 1046.4,584.7 1046.6,594.9 1046.8,592.3 1047,583.5 1047.2,593.1 1047.4,594.9 1047.6,579.3 1047.8,585.9 1048,582.6 1048.2,564.5 1048.4,588.8 1048.6,589.8 1048.9,586.9 1049.1,588.8 1049.3,595.3 1049.5,588.7 1049.7,593.2 1049.9,587.8 1050.1,598.5 1050.3,587.3 1050.5,592.9 1050.7,589.7 1050.9,595.9 1051.1,589.7 1051.3,584.7 1051.6,582.7 1051.8,586.6 1052,596.7 1052.2,584.7 1052.4,594.8 1052.6,594.9 1052.8,599 1053,586.3 1053.2,589.2 1053.4,580.1 1053.6,587 1053.8,597 1054,572.8 1054.3,586.9 1054.5,589.2 1054.7,594.7 1054.9,577.4 1055.1,598.6 1055.3,589.6 1055.5,594.9 1055.7,583.9 1055.9,584.6 1056.1,593.2 1056.3,604.7 1056.5,588 1056.8,589.9 1057,582.2 1057.2,594.4 1057.4,595.3 1057.6,580.7 1057.8,592 1058,582.4 1058.2,586.3 1058.4,592.6 1058.6,595.8 1058.8,592.9 1059,592.1 1059.2,587.7 1059.5,589.8 1059.7,585.4 1059.9,588.5 1060.1,583.1 1060.3,599.6 1060.5,579.9 1060.7,595.4 1060.9,587 1061.1,578 1061.3,594.2 1061.5,596.4 1061.7,580.9 1061.9,583.2 1062.2,581.4 1062.4,590.5 1062.6,577.6 1062.8,590.3 1063,582.1 1063.2,577.9 1063.4,572.5 1063.6,582.3 1063.8,570.7 1064,576.1 1064.2,587.1 1064.4,581 1064.7,579.6 1064.9,574.6 1065.1,590.2 1065.3,583 1065.5,588.4 1065.7,572.5 1065.9,570.2 1066.1,579.2 1066.3,584.2 1066.5,569 1066.7,582 1066.9,579 1067.1,589 1067.4,574.6 1067.6,585.3 1067.8,570.3 1068,587.6 1068.2,569.2 1068.4,582.9 1068.6,579.6 1068.8,580.8 1069,589.8 1069.2,562.3 1069.4,577.9 1069.6,589.7 1069.9,568.4 1070.1,587.8 1070.3,584.2 1070.5,568.3 1070.7,573.8 1070.9,567 1071.1,587.9 1071.3,566.9 1071.5,586.9 1071.7,563.6 1071.9,583 1072.1,573.1 1072.3,568 1072.6,566.3 1072.8,557.2 1073,578.9 1073.2,576.5 1073.4,568.9 1073.6,554.5 1073.8,554.9 1074,559.2 1074.2,582 1074.4,574.5 1074.6,576.5 1074.8,563.3 1075,558.8 1075.3,551.8 1075.5,571.6 1075.7,556.6 1075.9,553.5 1076.1,561.4 1076.3,559.4 1076.5,564.9 1076.7,561 1076.9,558.7 1077.1,550.8 1077.3,564.7 1077.5,554.4 1077.8,564.7 1078,544.5 1078.2,575.1 1078.4,550.8 1078.6,546 1078.8,568.6 1079,556.4 1079.2,545.6 1079.4,549.4 1079.6,528.3 1079.8,528 1080,559.6 1080.2,561.9 1080.5,546.8 1080.7,537.7 1080.9,537.6 1081.1,533.6 1081.3,516.1 1081.5,546.2 1081.7,527.2 1081.9,545.7 1082.1,521.1 1082.3,522.4 1082.5,526.2 1082.7,528 1082.9,508.4 1083.2,507 1083.4,517.3 1083.6,505.6 1083.8,503.5 1084,500.2 1084.2,465.2 1084.4,482.3 1084.6,465 1084.8,499.3 1085,445.6 1085.2,446.6 1085.4,471 1085.7,446.6 1085.9,448.4 1086.1,440 1086.3,429.1 1086.5,435 1086.7,406 1086.9,375.5 1087.1,373.3 1087.3,383.9 1087.5,374.6 1087.7,308.1 1087.9,294.6 1088.1,306.5 1088.4,326.2 1088.6,296.5 1088.8,331.5 1089,231.8 1089.2,259.8 1089.4,259.5 1089.6,221 1089.8,277.5 1090,288 1090.2,233.5 1090.4,279.9 1090.6,331 1090.8,280.1 1091.1,300.5 1091.3,310.7 1091.5,329.6 1091.7,337 1091.9,371.5 1092.1,368.1 1092.3,388.8 1092.5,422.1 1092.7,377.1 1092.9,401.8 1093.1,394.6 1093.3,421.6 1093.6,443 1093.8,433.6 1094,464.5 1094.2,451.8 1094.4,444.5 1094.6,473 1094.8,495.1 1095,487.4 1095.2,495.7 1095.4,517.8 1095.6,501.8 1095.8,514.3 1096,484.8 1096.3,530.6 1096.5,529.7 1096.7,506.7 1096.9,519.1 1097.1,519.8 1097.3,501.1 1097.5,534 1097.7,537.7 1097.9,536.1 1098.1,511.9 1098.3,517.8 1098.5,523.5 1098.8,525.2 1099,527.4 1099.2,529 1099.4,533.8 1099.6,543.1 1099.8,530 1100,524.5 1100.2,558.7 1100.4,533.5 1100.6,527.5 1100.8,550.6 1101,550.6 1101.2,537 1101.5,531.5 1101.7,556.8 1101.9,572.3 1102.1,551.5 1102.3,561.5 1102.5,543.8 1102.7,541.6 1102.9,529.6 1103.1,532.9 1103.3,540.2 1103.5,558 1103.7,551.6 1103.9,555.6 1104.2,557.6 1104.4,561.5 1104.6,560.3 1104.8,560.5 1105,549.1 1105.2,558.8 1105.4,548.2 1105.6,549.1 1105.8,558.9 1106,548.1 1106.2,555.1 1106.4,555.5 1106.7,560.7 1106.9,553 1107.1,553.3 1107.3,570.2 1107.5,556.2 1107.7,547.5 1107.9,568.3 1108.1,567.5 1108.3,559.6 1108.5,551.5 1108.7,553.9 1108.9,561.6 1109.1,571.8 1109.4,566.1 1109.6,567 1109.8,549 1110,556.9 1110.2,570.1 1110.4,576.6 1110.6,558.8 1110.8,550.7 1111,567.8 1111.2,572 1111.4,554.5 1111.6,560.4 1111.8,574.1 1112.1,564.6 1112.3,574.8 1112.5,561.7 1112.7,566.7 1112.9,576.8 1113.1,555.4 1113.3,568.6 1113.5,558.3 1113.7,574.5 1113.9,579.3 1114.1,563.2 1114.3,574.4 1114.6,569.7 1114.8,561.4 1115,575 1115.2,568.8 1115.4,563.1 1115.6,551.8 1115.8,558 1116,556.9 1116.2,585.4 1116.4,567 1116.6,568.7 1116.8,586.5 1117,568 1117.3,558.6 1117.5,568.6 1117.7,574.5 1117.9,563.8 1118.1,557.3 1118.3,572.8 1118.5,574.7 1118.7,563.3 1118.9,554 1119.1,583.5 1119.3,588.3 1119.5,588.3 1119.7,567.6 1120,574.1 1120.2,565.3 1120.4,578.3 1120.6,575.3 1120.8,583.7 1121,574.1 1121.2,567.9 1121.4,575.3 1121.6,570.4 1121.8,576.3 1122,574.9 1122.2,562.6 1122.5,568.5 1122.7,570.9 1122.9,571.4 1123.1,580.9 1123.3,577 1123.5,576.8 1123.7,573.1 1123.9,560.8 1124.1,571.4 1124.3,563.9 1124.5,560.2 1124.7,566.8 1124.9,563.1 1125.2,573.4 1125.4,570.7 1125.6,578.5 1125.8,568.7 1126,566.4 1126.2,578.1 1126.4,575.5 1126.6,556.5 1126.8,566.5 1127,582.2 1127.2,568.1 1127.4,558.3 1127.7,578.7 1127.9,569.6 1128.1,578.4 1128.3,591.4 1128.5,571.9 1128.7,573.5 1128.9,577.9 1129.1,586.3 1129.3,571.2 1129.5,575.8 1129.7,568.8 1129.9,576.2 1130.1,574.2 1130.4,575.1 1130.6,571.2 1130.8,576.3 1131,568.2 1131.2,572.7 1131.4,570.8 1131.6,566.2 1131.8,562.9 1132,570.9 1132.2,576.4 1132.4,571.4 1132.6,577.2 1132.8,586.9 1133.1,559.3 1133.3,578.5 1133.5,573.1 1133.7,574.5 1133.9,578.7 1134.1,576.8 1134.3,568.6 1134.5,570.1 1134.7,575.6 1134.9,574.4 1135.1,559.5 1135.3,578.8 1135.6,575.4 1135.8,565.8 1136,558.9 1136.2,564.7 1136.4,566 1136.6,573.1 1136.8,569.4 1137,563.4 1137.2,563.1 1137.4,560.5 1137.6,579.1 1137.8,562.2 1138,576.5 1138.3,581.8 1138.5,577.8 1138.7,581.3 1138.9,577.5 1139.1,561.8 1139.3,559.5 1139.5,577.1 1139.7,565.5 1139.9,568.7 1140.1,571.3 1140.3,567.9 1140.5,562.6 1140.7,555 1141,568.9 1141.2,559.7 1141.4,552.6 1141.6,567.7 1141.8,551.9 1142,562.8 1142.2,566.6 1142.4,562.3 1142.6,554.1 1142.8,572.7 1143,576 1143.2,556 1143.5,546.9 1143.7,552.7 1143.9,568.2 1144.1,575.8 1144.3,564.9 1144.5,560.7 1144.7,580.9 1144.9,561.9 1145.1,546.5 1145.3,555.3 1145.5,580.9 1145.7,564.5 1145.9,556.9 1146.2,553 1146.4,553 1146.6,547 1146.8,557 1147,558.9 1147.2,572.6 1147.4,543.5 1147.6,546.1 1147.8,552.6 1148,543.2 1148.2,558.3 1148.4,552.6 1148.6,556.5 1148.9,541.4 1149.1,547 1149.3,540.6 1149.5,537 1149.7,542.6 1149.9,548.8 1150.1,546.6 1150.3,533.8 1150.5,501.8 1150.7,531.1 1150.9,538.4 1151.1,560.6 1151.4,541.5 1151.6,528 1151.8,503.2 1152,525.5 1152.2,511 1152.4,531.3 1152.6,522.3 1152.8,521.2 1153,524.5 1153.2,514.9 1153.4,515.1 1153.6,523.8 1153.8,520.9 1154.1,530.2 1154.3,524.6 1154.5,509.9 1154.7,494.1 1154.9,527.3 1155.1,534.8 1155.3,535.7 1155.5,508.4 1155.7,525.9 1155.9,526.5 1156.1,508.5 1156.3,517.2 1156.6,513.9 1156.8,513.6 1157,523.2 1157.2,506.2 1157.4,528 1157.6,537.4 1157.8,526.7 1158,540.4 1158.2,528.5 1158.4,523.9 1158.6,555.8 1158.8,549.5 1159,533.6 1159.3,531.7 1159.5,536.2 1159.7,525.2 1159.9,554.2 1160.1,557.8 1160.3,558.1 1160.5,553.4 1160.7,553.4 1160.9,563.1 1161.1,548.9 1161.3,550 1161.5,554.3 1161.7,557.6 1162,553.7 1162.2,564.2 1162.4,561.4 1162.6,561.3 1162.8,556.1 1163,563.7 1163.2,561.8 1163.4,552.5 1163.6,556.1 1163.8,568.6 1164,565.6 1164.2,575.5 1164.5,565.9 1164.7,557.5 1164.9,562.2 1165.1,569.8 1165.3,580.7 1165.5,568.4 1165.7,571.9 1165.9,558.9 1166.1,551.1 1166.3,560.4 1166.5,559.3 1166.7,571 1166.9,569.3 1167.2,574.3 1167.4,558.8 1167.6,582.4 1167.8,581.9 1168,567.6 1168.2,574.3 1168.4,569.7 1168.6,582.5 1168.8,579.4 1169,560.6 1169.2,559 1169.4,568.1 1169.6,567.9 1169.9,568.5 1170.1,566.5 1170.3,563.6 1170.5,565.2 1170.7,558.2 1170.9,556.3 1171.1,557.1 1171.3,548.5 1171.5,545.4 1171.7,544.5 1171.9,534.7 1172.1,527 1172.4,523.5 1172.6,505.4 1172.8,489.3 1173,470.6 1173.2,463.2 1173.4,443.2 1173.6,421.9 1173.8,414.5 1174,394.3 1174.2,377.3 1174.4,382.2 1174.6,383.8 1174.8,397.5 1175.1,417 1175.3,440.5 1175.5,442.4 1175.7,464.7 1175.9,482.6 1176.1,495.6 1176.3,504.6 1176.5,520.1 1176.7,531.3 1176.9,536.6 1177.1,550.8 1177.3,554.9 1177.5,557 1177.8,559.4 1178,567.6 1178.2,569.3 1178.4,574.2 1178.6,575.7 1178.8,576 1179,579.6 1179.2,572.7 1179.4,579.3 1179.6,575.2 1179.8,567.3 1180,581.6 1180.3,588.2 1180.5,586.1 1180.7,586.2 1180.9,579.6 1181.1,580 1181.3,588.3 1181.5,583 1181.7,585 1181.9,594.2 1182.1,579.3 1182.3,581.6 1182.5,585.5 1182.7,588.9 1183,587.8 1183.2,590.7 1183.4,593.8 1183.6,599.7 1183.8,597.5 1184,592 1184.2,606.1 1184.4,586.5 1184.6,602.4 1184.8,588.5 1185,584.7 1185.2,588.1 1185.5,593.8 1185.7,595.6 1185.9,597 1186.1,586.7 1186.3,590.4 1186.5,596.1 1186.7,587 1186.9,593.8 1187.1,592.8 1187.3,591.2 1187.5,593.4 1187.7,594.6 1187.9,591.3 1188.2,593.4 1188.4,596.2 1188.6,601.1 1188.8,595.7 1189,598.1 1189.2,597.1 1189.4,596.5 1189.6,603.5 1189.8,592.2 1190,609.7 1190.2,607.7 1190.4,605.4 1190.6,593.5 1190.9,605.7 1191.1,582.2 1191.3,593.8 1191.5,594.3 1191.7,602.1 1191.9,595.2 1192.1,597.3 1192.3,593 1192.5,594.2 1192.7,594.7 1192.9,599.5 1193.1,598.8 1193.4,599.4 1193.6,600.9 1193.8,585.2 1194,588.6 1194.2,592.7 1194.4,589.4 1194.6,593.4 1194.8,588.9 1195,598.6 1195.2,596.5 1195.4,590.4 1195.6,595.7 1195.8,603.9 1196.1,594.8 1196.3,589.5 1196.5,593.5 1196.7,599.5 1196.9,597.4 1197.1,591.8 1197.3,592.3 1197.5,589.7 1197.7,606.3 1197.9,601.9 1198.1,602.6 1198.3,589.7 1198.5,585.5 1198.8,597.7 1199,584.8 1199.2,598.5 1199.4,594.3 1199.6,595.1 1199.8,603.3 1200,587.1 1200.2,595.7 1200.4,597.3 1200.6,597.7 1200.8,598.5 1201,598.3 1201.3,592.7 1201.5,597.5 1201.7,600.1 1201.9,597.1 1202.1,598.5 1202.3,600.1 1202.5,593.7 1202.7,594.3 1202.9,599.6 1203.1,594.6 1203.3,598 1203.5,601.7 1203.7,596.2 1204,597 1204.2,604.1 1204.4,600.5 1204.6,604.6 1204.8,603.1 1205,611.4 1205.2,601.4 1205.4,595.1 1205.6,601.7 1205.8,594.5 1206,597.3 1206.2,597.9 1206.4,598.1 1206.7,590.9 1206.9,597.1 1207.1,595.5 1207.3,596.6 1207.5,598.9 1207.7,602 1207.9,603.2 1208.1,589.6 1208.3,598 1208.5,612 1208.7,607.2 1208.9,598.4 1209.2,603.2 1209.4,605.1 1209.6,599.4 1209.8,602.6 1210,602.9 1210.2,599.3 1210.4,587.2 1210.6,604 1210.8,599.1 1211,592.8 1211.2,601.1 1211.4,596.9 1211.6,601.9 1211.9,605.5 1212.1,596.6 1212.3,597.4 1212.5,599.6 1212.7,597.4 1212.9,600.9 1213.1,594.7 1213.3,595.7 1213.5,600.6 1213.7,597.9 1213.9,600.5 1214.1,603.8 1214.4,598.5 1214.6,601.5 1214.8,602.3 1215,599.1 1215.2,599.4 1215.4,598 1215.6,595.8 1215.8,597.6 1216,600.4 1216.2,595.4 1216.4,605.3 1216.6,606.3 1216.8,597 1217.1,605.5 1217.3,603.3 1217.5,597.1 1217.7,604.9 1217.9,594.9 1218.1,603.8 1218.3,594.5 1218.5,591.1 1218.7,600.3 1218.9,599.8 1219.1,597.3 1219.3,604.7 1219.5,599.9 1219.8,592.4 1220,597.9 1220.2,596.2 1220.4,603.4 1220.6,604.4 1220.8,596.9 1221,603 1221.2,606.3 1221.4,601.8 1221.6,604.8 1221.8,596.5 1222,596.7 1222.3,597.4 1222.5,597.9 1222.7,592.1 1222.9,596.6 1223.1,592 1223.3,596.6 1223.5,590 1223.7,599.3 1223.9,596.5 1224.1,595.2 1224.3,599.5 1224.5,599.5 1224.7,589.4 1225,600.7 1225.2,598.5 1225.4,596.1 1225.6,608.5 1225.8,593.5 1226,597.3 1226.2,605.9 1226.4,598.9 1226.6,595.9 1226.8,588.8 1227,601.7 1227.2,593.7 1227.4,601.1 1227.7,595.8 1227.9,601.6 1228.1,608 1228.3,594.5 1228.5,601.5 1228.7,605.9 1228.9,596.6 1229.1,593.4 1229.3,596.5 1229.5,607.7 1229.7,602.8 1229.9,601.3 1230.2,603.1 1230.4,592.8 1230.6,590.7 1230.8,592.4 1231,594.6 1231.2,601.6 1231.4,602.7 1231.6,598.6 1231.8,598.1 1232,597.4 1232.2,603.1 1232.4,602.2 1232.6,593.8 1232.9,603.8 1233.1,591.1 1233.3,594.7 1233.5,600.2 1233.7,601.8 1233.9,602.3 1234.1,607.3 1234.3,597.8 1234.5,592.7 1234.7,593.5 1234.9,588 1235.1,599.9 1235.3,604.4 1235.6,593 1235.8,594.9 1236,596.5 1236.2,601.7 1236.4,600.2 1236.6,592.2 1236.8,605.6 1237,593.2 1237.2,598.3 1237.4,592.9 1237.6,602.1 1237.8,603.2 1238.1,598.5 1238.3,598.7 1238.5,603.7 1238.7,594.6 1238.9,596.2 1239.1,600.9 1239.3,599.4 1239.5,601.3 1239.7,601.8 1239.9,604.8 1240.1,594.6 1240.3,595.6 1240.5,601.3 1240.8,602.5 1241,599.4 1241.2,595.5 1241.4,595.9 1241.6,602.6 1241.8,599.1 1242,601.9 1242.2,597.3 1242.4,597.2 1242.6,597.1 1242.8,599 1243,600.2 1243.3,598.1 1243.5,605.9 1243.7,599.7 1243.9,602.5 1244.1,604.3 1244.3,596 1244.5,594.1 1244.7,596.4 1244.9,598 1245.1,607.2 1245.3,611 1245.5,607.8 1245.7,602.9 1246,608.1 1246.2,607.5 1246.4,594.9 1246.6,601.5 1246.8,599.3 1247,591.6 1247.2,601.1 1247.4,597.3 1247.6,606.1 1247.8,587.8 1248,605.3 1248.2,598.8 1248.4,599.4 1248.7,606.5 1248.9,594.5 1249.1,606.6 1249.3,601.1 1249.5,597 1249.7,599.4 1249.9,602 1250.1,592.5 1250.3,603.9 1250.5,603.7 1250.7,602.1 1250.9,596.3 1251.2,602.2 1251.4,596.8 1251.6,599.9 1251.8,599.1 1252,589.4 1252.2,602.5 1252.4,597.9 1252.6,601.9 1252.8,606 1253,596.6 1253.2,606 1253.4,600.3 1253.6,597.2 1253.9,602 1254.1,592.5 1254.3,592.1 1254.5,590.8 1254.7,591.9 1254.9,602.3 1255.1,596.4 1255.3,593.5 1255.5,603.4 1255.7,598.2 1255.9,588.9 1256.1,595.8 1256.3,599 1256.6,594.7 1256.8,599.1 1257,598.2 1257.2,592.3 1257.4,593.8 1257.6,595.2 1257.8,597.9 1258,593.4 1258.2,590.1 1258.4,590.2 1258.6,587.8 1258.8,589.7 1259.1,587.1 1259.3,585.8 1259.5,586.7 1259.7,581.5 1259.9,582.6 1260.1,582.6 1260.3,574.1 1260.5,573.7 1260.7,570.3 1260.9,563.2 1261.1,562.5 1261.3,553.3 1261.5,551.7 1261.8,553.3 1262,545.6 1262.2,545 1262.4,545 1262.6,540.3 1262.8,548.3 1263,550.3 1263.2,553.6 1263.4,558.2 1263.6,562.5 1263.8,567.2 1264,569.5 1264.2,571.6 1264.5,578.2 1264.7,579.2 1264.9,583.6 1265.1,586.1 1265.3,586.7 1265.5,585.9 1265.7,587.2 1265.9,589.9 1266.1,591.8 1266.3,592.3 1266.5,591.4 1266.7,592.9 1267,592.9 1267.2,595.2 1267.4,593.7 1267.6,599.7 1267.8,592.5 1268,592.8 1268.2,585.2 1268.4,602.7 1268.6,603.9 1268.8,596.9 1269,603.2 1269.2,597.5 1269.4,601.8 1269.7,602 1269.9,598.8 1270.1,597.9 1270.3,599.7 1270.5,605.7 1270.7,588.9 1270.9,592.8 1271.1,596 1271.3,606.5 1271.5,594.1 1271.7,606.9 1271.9,609.3 1272.2,598.3 1272.4,604 1272.6,601.9 1272.8,595 1273,595.3 1273.2,590.1 1273.4,604.5 1273.6,608.7 1273.8,594.7 1274,597.4 1274.2,602.7 1274.4,605.1 1274.6,601 1274.9,590.2 1275.1,595.3 1275.3,593.6 1275.5,591.2 1275.7,605.9 1275.9,605.6 1276.1,607.8 1276.3,601.6 1276.5,606.2 1276.7,607 1276.9,605.2 1277.1,599.4 1277.3,597.6 1277.6,598.2 1277.8,604.1 1278,601.5 1278.2,601.6 1278.4,601.7 1278.6,605.6 1278.8,597.6 1279,598.6 1279.2,601.8 1279.4,602 1279.6,596 1279.8,598.8 1280.1,602.9 1280.3,600.8 1280.5,605.6 1280.7,599.7 1280.9,605 1281.1,605.3 1281.3,606 1281.5,599.9 1281.7,590.5 1281.9,599.6 1282.1,597.4 1282.3,599.4 1282.5,606.4 1282.8,597 1283,600.8 1283.2,596.3 1283.4,596.1 1283.6,591.1 1283.8,596.2 1284,591.2 1284.2,605.8 1284.4,601.3 1284.6,587.4 1284.8,601.8 1285,593.2 1285.2,592.4 1285.5,603.8 1285.7,599.3 1285.9,594.6 1286.1,597.4 1286.3,595 1286.5,588.4 1286.7,601.6 1286.9,592.9 1287.1,592.9 1287.3,582.1 1287.5,594.5 1287.7,591.7 1288,594.8 1288.2,595.1 1288.4,581.1 1288.6,593.6 1288.8,579.6 1289,585.2 1289.2,576.7 1289.4,589.2 1289.6,565.4 1289.8,556.2 1290,565.5 1290.2,543.5 1290.4,550.2 1290.7,555.3 1290.9,531 1291.1,542.7 1291.3,539.7 1291.5,535.6 1291.7,528.6 1291.9,530.6 1292.1,527.4 1292.3,546.4 1292.5,559.4 1292.7,545.7 1292.9,557.9 1293.2,567.8 1293.4,576.8 1293.6,579.4 1293.8,578.1 1294,577.2 1294.2,582.6 1294.4,595.5 1294.6,581.6 1294.8,590.1 1295,592.9 1295.2,591.8 1295.4,594.7 1295.6,590.4 1295.9,596.3 1296.1,603.1 1296.3,605 1296.5,587.1 1296.7,595.5 1296.9,597.7 1297.1,600.4 1297.3,599.9 1297.5,597.9 1297.7,597.6 1297.9,598.3 1298.1,595.7 1298.3,603.9 1298.6,598 1298.8,600.7 1299,594.9 1299.2,599.1 1299.4,600.3 1299.6,601.8 1299.8,598.8 1300,601.7 1300.2,598.6 1300.4,601 1300.6,598 1300.8,598.5 1301.1,601.7 1301.3,599.7 1301.5,602.8 1301.7,600 1301.9,600.7 1302.1,602.5 1302.3,606.3 1302.5,605.8 1302.7,596.7 1302.9,601.3 1303.1,608.9 1303.3,600.7 1303.5,601.7 1303.8,609.4 1304,596.4 1304.2,607.6 1304.4,597.9 1304.6,603.1 1304.8,597.2 1305,593.8 1305.2,601.6 1305.4,592.8 1305.6,613.8 1305.8,595.4 1306,599.6 1306.2,591 1306.5,599.8 1306.7,609 1306.9,603.1 1307.1,601.4 1307.3,604.1 1307.5,604.2 1307.7,597.9 1307.9,596 1308.1,596.5 1308.3,602.8 1308.5,599 1308.7,601.4 1309,600.4 1309.2,601.5 1309.4,598.1 1309.6,601.3 1309.8,603.9 1310,608.4 1310.2,601.2 1310.4,600 1310.6,601.9 1310.8,589 1311,604.7 1311.2,606.4 1311.4,598.8 1311.7,602.9 1311.9,599.2 1312.1,594.2 1312.3,602.6 1312.5,600.3 1312.7,599.3 1312.9,603.1 1313.1,606 1313.3,597.3 1313.5,603 1313.7,599.7 1313.9,604.2 1314.1,606.7 1314.4,597.5 1314.6,591.8 1314.8,607.2 1315,604.9 1315.2,590.4 1315.4,593.7 1315.6,604.3 1315.8,601.1 1316,603.3 1316.2,606.2 1316.4,595.7 1316.6,601.4 1316.9,596.9 1317.1,601.3 1317.3,593 1317.5,601 1317.7,604.7 1317.9,604.7 1318.1,598.4 1318.3,600.3 1318.5,602.5 1318.7,601.3 1318.9,600.2 1319.1,608.5 1319.3,599.6 1319.6,604.2 1319.8,601 1320,600.1 1320.2,600.2 1320.4,595.9 1320.6,603.7 1320.8,601.6 1321,607.4 1321.2,600 1321.4,603.2 1321.6,601.2 1321.8,598.6 1322.1,598.2 1322.3,599.6 1322.5,601.6 1322.7,603.2 1322.9,599.5 1323.1,594.8 1323.3,596.1 1323.5,605.5 1323.7,614.3 1323.9,600 1324.1,600.9 1324.3,596 1324.5,596.3 1324.8,594.8 1325,598.6 1325.2,604.9 1325.4,600.5 1325.6,595.2 1325.8,601.2 1326,600.2 1326.2,598.6 1326.4,594.2 1326.6,602.7 1326.8,598.2 1327,602.5 1327.2,596.3 1327.5,603.1 1327.7,599.5 1327.9,592.8 1328.1,604.6 1328.3,600.5 1328.5,605 1328.7,601.2 1328.9,599.4 1329.1,595 1329.3,601.4 1329.5,608.2 1329.7,604.2 1330,592.8 1330.2,593.2 1330.4,607.5 1330.6,602.2 1330.8,601.1 1331,598.5 1331.2,609.6 1331.4,596 1331.6,597.8 1331.8,602.3 1332,591.5 1332.2,599.1 1332.4,597.6 1332.7,598 1332.9,604.9 1333.1,598.9 1333.3,607.7 1333.5,601 1333.7,594.4 1333.9,591.6 1334.1,608.4 1334.3,596.4 1334.5,604.9 1334.7,601.4 1334.9,597.8 1335.1,602 1335.4,602.8 1335.6,608.1 1335.8,607.6 1336,600.1 1336.2,602.9 1336.4,603.5 1336.6,600.6 1336.8,596.2 1337,611.2 1337.2,594.6 1337.4,601.5 1337.6,605.5 1337.9,598.7 1338.1,598.6 1338.3,598.5 1338.5,600.4 1338.7,595.5 1338.9,598 1339.1,605.5 1339.3,595.1 1339.5,601.8 1339.7,600.8 1339.9,609.2 1340.1,592 1340.3,605.1 1340.6,606.1 1340.8,598.1 1341,593.1 1341.2,598 1341.4,606.5 1341.6,605.2 1341.8,608.2 1342,602.3 1342.2,597.7 1342.4,600 1342.6,596.8 1342.8,599.6 1343,600.6 1343.3,597.8 1343.5,601 1343.7,602.5 1343.9,595.9 1344.1,598.4 1344.3,599.6 1344.5,605.6 1344.7,605.5 1344.9,600.8 1345.1,604.5 1345.3,594.5 1345.5,602.7 1345.8,601.7 1346,604.4 1346.2,597.3 1346.4,608.2 1346.6,597 1346.8,592.5 1347,599.4 1347.2,597.4 1347.4,597.4 1347.6,597 1347.8,601.8 1348,602.1 1348.2,607 1348.5,600.8 1348.7,598.3 1348.9,594.9 1349.1,607 1349.3,605.9 1349.5,600.7 1349.7,601.9 1349.9,597.2 1350.1,607.8 1350.3,597 1350.5,602.3 1350.7,591.4 1351,595.4 1351.2,600.7 1351.4,597.8 1351.6,600.8 1351.8,596.4 1352,602 1352.2,597.5 1352.4,596.3 1352.6,599 1352.8,600.3 1353,595.6 1353.2,598.4 1353.4,589.9 1353.7,599.4 1353.9,590.7 1354.1,596.6 1354.3,596.1 1354.5,594.3 1354.7,592.1 1354.9,588.8 1355.1,588.2 1355.3,583.6 1355.5,587.8 1355.7,586.3 1355.9,587.8 1356.1,585.5 1356.4,588 1356.6,587 1356.8,586.7 1357,585.4 1357.2,589.8 1357.4,590.8 1357.6,581.7 1357.8,580 1358,582.7 1358.2,568.9 1358.4,589 1358.6,582.5 1358.9,579.7 1359.1,574.5 1359.3,576.2 1359.5,558.4 1359.7,558.2 1359.9,565.3 1360.1,552.6 1360.3,554.7 1360.5,562.7 1360.7,556.4 1360.9,544.5 1361.1,548.5 1361.3,541.3 1361.6,552.7 1361.8,544.5 1362,512.9 1362.2,535 1362.4,516.7 1362.6,515.6 1362.8,514.3 1363,533.7 1363.2,535 1363.4,490.2 1363.6,526.9 1363.8,517.2 1364,540.5 1364.3,537.7 1364.5,510.2 1364.7,538.4 1364.9,514.4 1365.1,522.6 1365.3,556 1365.5,543.1 1365.7,560.9 1365.9,541.5 1366.1,561.7 1366.3,553.2 1366.5,574.6 1366.8,565.9 1367,559.7 1367.2,553.2 1367.4,567.7 1367.6,560.5 1367.8,569 1368,587 1368.2,570.2 1368.4,589.6 1368.6,591.8 1368.8,582.8 1369,589.2 1369.2,577.6 1369.5,580.2 1369.7,593.2 1369.9,586.8 1370.1,586.7 1370.3,583.4 1370.5,590.8 1370.7,593.4 1370.9,596.4 1371.1,595 1371.3,586.1 1371.5,588.7 1371.7,595.6 1371.9,590.3 1372.2,591.6 1372.4,582.8 1372.6,601 1372.8,589 1373,596.8 1373.2,590.9 1373.4,601.9 1373.6,597.9 1373.8,573.1 1374,602.9 1374.2,592 1374.4,586.3 1374.7,593.7 1374.9,600.9 1375.1,591.4 1375.3,596.8 1375.5,591.9 1375.7,599.7 1375.9,593.6 1376.1,592.6 1376.3,601.5 1376.5,600.9 1376.7,604.3 1376.9,603.9 1377.1,592.1 1377.4,598.7 1377.6,595.3 1377.8,607.8 1378,605.7 1378.2,600.9 1378.4,607.5 1378.6,600.8 1378.8,590.3 1379,594.7 1379.2,601.6 1379.4,597.7 1379.6,606.9 1379.9,610.8 1380.1,612.9 1380.3,600 1380.5,596.9 1380.7,603.2 1380.9,603 1381.1,597.6 1381.3,598.7 1381.5,598.2 1381.7,595.4 1381.9,612 1382.1,599.5 1382.3,602.8 1382.6,602 1382.8,604.4 1383,612.5 1383.2,604.6 1383.4,598.7 1383.6,595.2 1383.8,588 1384,607 1384.2,608.1 1384.4,608.6 1384.6,602.6 1384.8,595.1 1385,598.3 1385.3,601.7 1385.5,599.3 1385.7,607 1385.9,595.3 1386.1,602.9 1386.3,593.3 1386.5,596.8 1386.7,596 1386.9,607.5 1387.1,593.2 1387.3,594.7 1387.5,603.7 1387.8,605.7 1388,596.5 1388.2,603.9 1388.4,597.2 1388.6,604.3 1388.8,601.5 1389,589.7 1389.2,600.1 1389.4,599.4 1389.6,600.1 1389.8,599.2 1390,601 1390.2,605.5 1390.5,598.5 1390.7,599.8 1390.9,597.4 1391.1,594.4 1391.3,593.6 1391.5,594.6 1391.7,596.3 1391.9,596.5 1392.1,590.7 1392.3,593.4 1392.5,591.5 1392.7,588.9 1392.9,585.1 1393.2,586.2 1393.4,584.6 1393.6,577 1393.8,569 1394,572.4 1394.2,567.5 1394.4,565.7 1394.6,576.3 1394.8,573.4 1395,574.1 1395.2,584 1395.4,585.2 1395.7,587.6 1395.9,583.7 1396.1,596.4 1396.3,591.4 1396.5,589.8 1396.7,600.5 1396.9,591.5 1397.1,597.3 1397.3,602.2 1397.5,600.5 1397.7,593.1 1397.9,601.2 1398.1,601.3 1398.4,598.6 1398.6,599.1 1398.8,605.2 1399,602.4 1399.2,596.8 1399.4,598.1 1399.6,593.2 1399.8,599.4 1400,602.2 1400.2,596.7 1400.4,595.1 1400.6,605.7 1400.8,604.1 1401.1,601.3 1401.3,603.8 1401.5,598.3 1401.7,605.4 1401.9,602.7 1402.1,608.5 1402.3,602.5 1402.5,605.1 1402.7,609.1 1402.9,594.6 1403.1,607.4 1403.3,599.5 1403.6,610.9 1403.8,599.7 1404,604.4 1404.2,601.8 1404.4,602.9 1404.6,603.6 1404.8,602.4 1405,604.7 1405.2,602.3 1405.4,594 1405.6,594.8 1405.8,597.8 1406,607.4 1406.3,601.3 1406.5,608.2 1406.7,593.7 1406.9,601.5 1407.1,604.6 1407.3,603.9 1407.5,600.2 1407.7,601.7 1407.9,605.8 1408.1,597.4 1408.3,606 1408.5,606.3 1408.8,606.6 1409,594.5 1409.2,596.8 1409.4,602.7 1409.6,605.9 1409.8,592.7 1410,605 1410.2,606.9 1410.4,604.2 1410.6,607.8 1410.8,601.7 1411,609.8 1411.2,605.2 1411.5,599.4 1411.7,605.5 1411.9,598.9 1412.1,598.1 1412.3,607.7 1412.5,602.1 1412.7,600.5 1412.9,612.8 1413.1,606.9 1413.3,596.7 1413.5,604.7 1413.7,604.8 1413.9,606.4 1414.2,599.5 1414.4,603.4 1414.6,597.1 1414.8,602.4 1415,596.5 1415.2,597 1415.4,590.3 1415.6,609 1415.8,601.4 1416,602.8 1416.2,599.2 1416.4,611.1 1416.7,597.9 1416.9,599.8 1417.1,602.6 1417.3,594.5 1417.5,596.7 1417.7,606.8 1417.9,603.2 1418.1,603.4 1418.3,604.4 1418.5,597.2 1418.7,598.1 1418.9,607.2 1419.1,597.9 1419.4,596.6 1419.6,603.1 1419.8,603.7 1420,608.4 1420.2,602.9 1420.4,600.4 1420.6,609.7 1420.8,607.1 1421,608 1421.2,605.5 1421.4,601.4 1421.6,602.7 1421.8,602.7 1422.1,606.2 1422.3,598.7 1422.5,600.1 1422.7,602.6 1422.9,606 1423.1,607.9 1423.3,601.4 1423.5,602.2 1423.7,601.4 1423.9,597.5 1424.1,599.5 1424.3,613.3 1424.6,603.7 1424.8,604.3 1425,599.2 1425.2,605.3 1425.4,601.8 1425.6,599.2 1425.8,608.2 1426,598 1426.2,601 1426.4,603.3 1426.6,610 1426.8,605.2 1427,607.1 1427.3,602.6 1427.5,603.1 1427.7,602.3 1427.9,601.1 1428.1,604.7 1428.3,599.9 1428.5,608.4 1428.7,599 1428.9,597.9 1429.1,600.5 1429.3,598.7 1429.5,599.8 1429.7,605.4 1430,607.5 1430.2,595.5 1430.4,606.2 1430.6,605.2 1430.8,602.7 1431,613.6 1431.2,608.7 1431.4,602.2 1431.6,605 1431.8,609.1 1432,606.5 1432.2,607.6 1432.5,597.7 1432.7,603.3 1432.9,602.8 1433.1,598.7 1433.3,607.7 1433.5,603.4 1433.7,605.1 1433.9,601.6 1434.1,602.9 1434.3,599 1434.5,603 1434.7,599 1434.9,607.3 1435.2,597.5 1435.4,604.7 1435.6,606.9 1435.8,602.5 1436,605.6 1436.2,604.5 1436.4,607.5 1436.6,603 1436.8,606.4 1437,603.6 1437.2,601.8 1437.4,608.1 1437.7,607.2 1437.9,603.2 1438.1,605 1438.3,610.8 1438.5,601.7 1438.7,598.1 1438.9,607.6 1439.1,597.1 1439.3,602 1439.5,595.1 1439.7,607.4 1439.9,608 1440.1,603.6 1440.4,601.9 1440.6,608.4 1440.8,613 1441,603.9 1441.2,601 1441.4,607.1 1441.6,602.5 1441.8,605 1442,612 1442.2,607.1 1442.4,601 1442.6,601.7 1442.8,600.4 1443.1,600.3 1443.3,605.9 1443.5,605.4 1443.7,601.4 1443.9,595.6 1444.1,596.1 1444.3,607.7 1444.5,603 1444.7,607.9 1444.9,597.2 1445.1,607 1445.3,605.5 1445.6,608.1 1445.8,596.6 1446,610.4 1446.2,606.1 1446.4,604.4 1446.6,606.4 1446.8,607.4 1447,601.7 1447.2,598.8 1447.4,600.7 1447.6,603.8 1447.8,600.4 1448,605.2 1448.3,594.7 1448.5,600.6 1448.7,601.6 1448.9,607.5 1449.1,604.8 1449.3,600.2 1449.5,599.3 1449.7,607.2 1449.9,599.6 1450.1,600.2 1450.3,600.4 1450.5,602.4 1450.7,600.3 1451,602.3 1451.2,607.2 1451.4,600 1451.6,615 1451.8,603.5 1452,606.6 1452.2,602 1452.4,599.1 1452.6,605.1 1452.8,605.5 1453,603.5 1453.2,603.6 1453.5,600.4 1453.7,603.9 1453.9,598.3 1454.1,611.9 1454.3,596.2 1454.5,598.3 1454.7,596.1 1454.9,604.6 1455.1,599.9 1455.3,599.5 1455.5,603.1 1455.7,590.1 1455.9,604 1456.2,606.4 1456.4,598.4 1456.6,595.5 1456.8,602.9 1457,603.3 1457.2,605.3 1457.4,601.5 1457.6,607.6 1457.8,600.4 1458,603.6 1458.2,606.3 1458.4,603.9 1458.6,602.2 1458.9,608 1459.1,603.8 1459.3,591.7 1459.5,602.1 1459.7,601.2 1459.9,600.9 1460.1,600.5 1460.3,603.7 1460.5,602.7 1460.7,595.5 1460.9,602.8 1461.1,609 1461.4,601.1 1461.6,599.5 1461.8,597.8 1462,592.2 1462.2,595.2 1462.4,599.2 1462.6,593.9 1462.8,587 1463,608.9 1463.2,599.5 1463.4,585.2 1463.6,596.4 1463.8,594.2 1464.1,604.4 1464.3,603 1464.5,605.1 1464.7,593.5 1464.9,591.2 1465.1,596.5 1465.3,595.1 1465.5,586.6 1465.7,592.2 1465.9,580.9 1466.1,596.2 1466.3,595 1466.6,591.3 1466.8,598.7 1467,596 1467.2,603.2 1467.4,588.4 1467.6,585.5 1467.8,594.8 1468,599.3 1468.2,595.1 1468.4,598.4 1468.6,601.5 1468.8,595.9 1469,596.9 1469.3,596.7 1469.5,593.7 1469.7,602.9 1469.9,590.8 1470.1,590.9 1470.3,595.7 1470.5,605.1 1470.7,603.6 1470.9,609 1471.1,603 1471.3,594.6 1471.5,594.5 1471.7,601.7 1472,600.9 1472.2,599.6 1472.4,603.7 1472.6,592.4 1472.8,599.5 1473,597.3 1473.2,604.7 1473.4,597.2 1473.6,602.3 1473.8,604.7 1474,601.3 1474.2,591.2 1474.5,595 1474.7,605.8 1474.9,600.4 1475.1,596.6 1475.3,598.9 1475.5,597.7 1475.7,595.4 1475.9,599.3 1476.1,591.9 1476.3,597.8 1476.5,601.1 1476.7,594.9 1476.9,593.7 1477.2,614 1477.4,596.6 1477.6,602.2 1477.8,597.4 1478,594.5 1478.2,601.7 1478.4,594.1 1478.6,599.4 1478.8,595.4 1479,602.4 1479.2,591.2 1479.4,599 1479.6,597.1 1479.9,590.4 1480.1,592.3 1480.3,586.9 1480.5,593.8 1480.7,597.1 1480.9,593.4 1481.1,594.3 1481.3,597.3 1481.5,593.9 1481.7,594 1481.9,597 1482.1,595.4 1482.4,594.5 1482.6,581.7 1482.8,590.5 1483,593.9 1483.2,589.6 1483.4,591 1483.6,587.5 1483.8,584.1 1484,583.9 1484.2,583.6 1484.4,593.3 1484.6,583.4 1484.8,591.4 1485.1,578.6 1485.3,586.2 1485.5,591.1 1485.7,598 1485.9,580.4 1486.1,583.6 1486.3,588.8 1486.5,597.1 1486.7,574.6 1486.9,588 1487.1,583.2 1487.3,574.4 1487.5,581.9 1487.8,562.7 1488,570.6 1488.2,576.4 1488.4,576.5 1488.6,575.4 1488.8,572.8 1489,568.9 1489.2,569 1489.4,559.8 1489.6,556.9 1489.8,566.1 1490,549.7 1490.3,547.7 1490.5,551 1490.7,558.8 1490.9,563 1491.1,570.5 1491.3,564.3 1491.5,551.4 1491.7,544.4 1491.9,554.2 1492.1,542.9 1492.3,545 1492.5,557.6 1492.7,556.8 1493,544.1 1493.2,559.9 1493.4,528.9 1493.6,514.2 1493.8,556.8 1494,530 1494.2,547.7 1494.4,544.7 1494.6,547.6 1494.8,526.7 1495,535.3 1495.2,525.3 1495.5,517.6 1495.7,531.4 1495.9,532.8 1496.1,503.8 1496.3,531.6 1496.5,537.9 1496.7,522.3 1496.9,531.2 1497.1,546.6 1497.3,538.9 1497.5,533.8 1497.7,528.7 1497.9,568 1498.2,536.2 1498.4,521.8 1498.6,529.8 1498.8,559.8 1499,552 1499.2,543.9 1499.4,536.6 1499.6,564.1 1499.8,543.4 1500,541.9 1500.2,549.4 1500.4,552.1 1500.6,552.3 1500.9,565 1501.1,551.4 1501.3,565.7 1501.5,564.6 1501.7,558.6 1501.9,555.6 1502.1,559.6 1502.3,574.6 1502.5,569.9 1502.7,587.5 1502.9,555.1 1503.1,572.3 1503.4,575.5 1503.6,578.5 1503.8,585.1 1504,582.9 1504.2,579.6 1504.4,581.5 1504.6,588.9 1504.8,593.6 1505,590.7 1505.2,589.5 1505.4,569.1 1505.6,588.9 1505.8,575.3 1506.1,593.1 1506.3,598.7 1506.5,596.8 1506.7,584.1 1506.9,595.7 1507.1,595.6 1507.3,585.7 1507.5,590.8 1507.7,596.8 1507.9,576.7 1508.1,587.7 1508.3,598.7 1508.5,589.7 1508.8,595.8 1509,590.8 1509.2,601.7 1509.4,586.4 1509.6,592.2 1509.8,588 1510,597.3 1510.2,598.8 1510.4,589.9 1510.6,592.3 1510.8,593.2 1511,590 1511.3,602.1 1511.5,605.3 1511.7,598.3 1511.9,592.5 1512.1,600.7 1512.3,597.2 1512.5,589 1512.7,590.9 1512.9,590.9 1513.1,591.7 1513.3,596.6 1513.5,598.4 1513.7,599 1514,585.5 1514.2,597.2 1514.4,590.6 1514.6,597.1 1514.8,604.8 1515,591.8 1515.2,600.8 1515.4,596.8 1515.6,598.2 1515.8,600.2 1516,611.6 1516.2,602.7 1516.5,603.3 1516.7,594.3 1516.9,598.4 1517.1,598.6 1517.3,600.2 1517.5,598.7 1517.7,594.3 1517.9,605.9 1518.1,600.5 1518.3,591.2 1518.5,601.9 1518.7,604.4 1518.9,600.1 1519.2,596.8 1519.4,594.2 1519.6,596 1519.8,599.4 1520,595.1 1520.2,592 1520.4,598.5 1520.6,600.9 1520.8,597.4 1521,597.1 1521.2,594 1521.4,594.3 1521.6,596.5 1521.9,608.4 1522.1,602.7 1522.3,594.4 1522.5,607.1 1522.7,599.5 1522.9,607.3 1523.1,604.8 1523.3,592.6 1523.5,603.6 1523.7,607.3 1523.9,601.3 1524.1,597.1 1524.4,594.4 1524.6,608.5 1524.8,601.9 1525,602.9 1525.2,601.5 1525.4,598.8 1525.6,609.4 1525.8,599 1526,606.5 1526.2,592.9 1526.4,600.8 1526.6,602.9 1526.8,600.7 1527.1,593.8 1527.3,601.9 1527.5,600.4 1527.7,599 1527.9,608.1 1528.1,601.5 1528.3,603.1 1528.5,602.3 1528.7,593 1528.9,602.5 1529.1,591.2 1529.3,608.4 1529.5,593.1 1529.8,609.2 1530,604.3 1530.2,595.8 1530.4,596.8 1530.6,613.7 1530.8,594 1531,594.6 1531.2,608.7 1531.4,605.1 1531.6,605.9 1531.8,601.8 1532,594.1 1532.3,610.1 1532.5,597.2 1532.7,611.9 1532.9,597.3 1533.1,605.4 1533.3,606.7 1533.5,588.9 1533.7,596.9 1533.9,596.6 1534.1,601.2 1534.3,600.7 1534.5,595.8 1534.7,585.2 1535,589.5 1535.2,602.8 1535.4,593.1 1535.6,599.8 1535.8,599.9 1536,602.9 1536.2,596.3 1536.4,599.5 1536.6,592.1 1536.8,587.5 1537,596.9 1537.2,593.7 1537.4,588.3 1537.7,585.6 1537.9,593.5 1538.1,589.2 1538.3,587.1 1538.5,590.4 1538.7,580.5 1538.9,592.2 1539.1,590.4 1539.3,591.9 1539.5,594.9 1539.7,589.7 1539.9,586.5 1540.2,588.1 1540.4,586.3 1540.6,588.7 1540.8,596.6 1541,587.3 1541.2,583.6 1541.4,572 1541.6,584.7 1541.8,595.3 1542,593.1 1542.2,581.9 1542.4,572.5 1542.6,590.4 1542.9,591.1 1543.1,588.7 1543.3,590.4 1543.5,588 1543.7,599.8 1543.9,592.2 1544.1,596 1544.3,591.1 1544.5,599.7 1544.7,591.9 1544.9,592 1545.1,594.4 1545.4,593.2 1545.6,599.1 1545.8,603.5 1546,597.9 1546.2,594.9 1546.4,600.1 1546.6,588.2 1546.8,600.3 1547,601.2 1547.2,595.4 1547.4,591.3 1547.6,596.3 1547.8,593.9 1548.1,603.1 1548.3,591.9 1548.5,599.1 1548.7,601.5 1548.9,596.2 1549.1,597.4 1549.3,591.1 1549.5,607.6 1549.7,602.2 1549.9,606.1 1550.1,599.7 1550.3,600.8 1550.5,599.2 1550.8,593.9 1551,601.2 1551.2,603.4 1551.4,598 1551.6,598.5 1551.8,601.6 1552,595.6 1552.2,609.6 1552.4,603.2 1552.6,594.9 1552.8,606.1 1553,603.3 1553.3,600.1 1553.5,593.9 1553.7,596.4 1553.9,603.5 1554.1,605.7 1554.3,605.7 1554.5,598.4 1554.7,606 1554.9,606.2 1555.1,603.2 1555.3,604.2 1555.5,599.8 1555.7,598.7 1556,598 1556.2,599.6 1556.4,601.7 1556.6,595.9 1556.8,605.6 1557,599.6 1557.2,594.4 1557.4,605.3 1557.6,601.4 1557.8,604.3 1558,603.5 1558.2,609.4 1558.4,597.5 1558.7,599.1 1558.9,605.4 1559.1,607.8 1559.3,599.8 1559.5,605.5 1559.7,602.4 1559.9,609.1 1560.1,603.7 1560.3,605.8 1560.5,607.9 1560.7,602.2 1560.9,604.4 1561.2,604.5 1561.4,604.4 1561.6,610.5 1561.8,605.1 1562,605.6 1562.2,595 1562.4,593.6 1562.6,598.6 1562.8,596.9 1563,601.1 1563.2,602.3 1563.4,603.4 1563.6,595.8 1563.9,597.8 1564.1,597.9 1564.3,602.5 1564.5,601.1 1564.7,600.2 1564.9,601.1 1565.1,607.4 1565.3,610.2 1565.5,602.8 1565.7,609.4 1565.9,604.7 1566.1,600.6 1566.3,603.9 1566.6,605.3 1566.8,603.8 1567,599.6 1567.2,608.9 1567.4,606.5 1567.6,597.9 1567.8,610.4 1568,608.5 1568.2,601 1568.4,611.2 1568.6,603.9 1568.8,602.5 1569.1,608.8 1569.3,610.3 1569.5,599.1 1569.7,607.3 1569.9,611.5 1570.1,604.1 1570.3,608.3 1570.5,602.4 1570.7,607.1 1570.9,601.2 1571.1,602.9 1571.3,605.1 1571.5,608.5 1571.8,603.9 1572,597.4 1572.2,611.5 1572.4,605 1572.6,603 1572.8,604.1 1573,601.1 1573.2,608.4 1573.4,603.5 1573.6,598.8 1573.8,610.6 1574,597.5 1574.3,604.8 1574.5,597.7 1574.7,601.5 1574.9,606.5 1575.1,608.2 1575.3,605.4 1575.5,605.2 1575.7,603.9 1575.9,593.9 1576.1,603.2 1576.3,599.8 1576.5,611 1576.7,600.6 1577,608.6 1577.2,594.2 1577.4,604.9 1577.6,604.5 1577.8,605.7 1578,606 1578.2,605.3 1578.4,603.6 1578.6,597.9 1578.8,604.3 1579,602.8 1579.2,596.2 1579.4,607.6 1579.7,598.3 1579.9,598.9 1580.1,598.3 1580.3,599.1 1580.5,602.1 1580.7,596.7 1580.9,604.4 1581.1,595.8 1581.3,584.2 1581.5,595.4 1581.7,589.4 1581.9,593.8 1582.2,582.7 1582.4,585 1582.6,580.8 1582.8,581.6 1583,579.2 1583.2,573.6 1583.4,573.9 1583.6,578.8 1583.8,575.6 1584,575.4 1584.2,571 1584.4,580.5 1584.6,588.6 1584.9,578.6 1585.1,582.8 1585.3,583.2 1585.5,593 1585.7,583.1 1585.9,592.4 1586.1,590.3 1586.3,595 1586.5,597.9 1586.7,599.8 1586.9,596.2 1587.1,597.5 1587.3,602.7 1587.6,604 1587.8,592.8 1588,596.4 1588.2,602.7 1588.4,600.3 1588.6,602.2 1588.8,600.7 1589,605.5 1589.2,603.1 1589.4,601.6 1589.6,600.4 1589.8,610.1 1590.1,605.9 1590.3,593.5 1590.5,604.8 1590.7,601.7 1590.9,601.6 1591.1,601.5 1591.3,599.2 1591.5,600.2 1591.7,600.9 1591.9,599.3 1592.1,602.3 1592.3,600.9 1592.5,609.6 1592.8,606.3 1593,601.5 1593.2,602.8 1593.4,598.6 1593.6,608.2 1593.8,606.7 1594,605.8 1594.2,602.4 1594.4,607.6 1594.6,599.8 1594.8,601.2 1595,602.5 1595.2,607.5 1595.5,606.5 1595.7,608.9 1595.9,603 1596.1,609.2 1596.3,607.4 1596.5,600.9 1596.7,609.1 1596.9,600.3 1597.1,605 1597.3,610.5 1597.5,599.9 1597.7,610.2 1598,601.9 1598.2,595.6 1598.4,610.5 1598.6,606.4 1598.8,607.1 1599,606.1 1599.2,601.6 1599.4,600.9 1599.6,608.8 1599.8,613.6 1600,598.6 1600.2,612.3 1600.4,606.9 1600.7,600.2 1600.9,609.5 1601.1,607.4 1601.3,595.6 1601.5,607.8 1601.7,599.5 1601.9,611.1 1602.1,599.4 1602.3,612.4 1602.5,608.5 1602.7,597.2 1602.9,605.3 1603.2,604.4 1603.4,607.6 1603.6,604 1603.8,609.2 1604,603.8 1604.2,605.2 1604.4,607.1 1604.6,603 1604.8,599.4 1605,609.9 1605.2,607.7 1605.4,600.8 1605.6,599.6 1605.9,607.6 1606.1,603.2 1606.3,603.3 1606.5,598.3 1606.7,606.5 1606.9,605.7 1607.1,605 1607.3,609.2 1607.5,606.5 1607.7,608.6 1607.9,607.8 1608.1,606.9 1608.3,610.3 1608.6,601.6 1608.8,604.8 1609,600.7 1609.2,612.2 1609.4,608.4 1609.6,605.8 1609.8,604.2 1610,608.2 1610.2,603 1610.4,604 1610.6,609 1610.8,606.8 1611.1,603.7 1611.3,605.3 1611.5,607.3 1611.7,596.8 1611.9,607 1612.1,601.1 1612.3,606.1 1612.5,596.6 1612.7,604.5 1612.9,609.4 1613.1,602.1 1613.3,603.9 1613.5,616.5 1613.8,601.3 1614,609.6 1614.2,602.2 1614.4,607.1 1614.6,607.5 1614.8,607.3 1615,609.5 1615.2,599 1615.4,606.2 1615.6,597.3 1615.8,607.8 1616,616.5 1616.2,607.4 1616.5,603.9 1616.7,609.5 1616.9,595.6 1617.1,611.1 1617.3,607.3 1617.5,608.5 1617.7,605.2 1617.9,606.4 1618.1,606 1618.3,604.1 1618.5,604 1618.7,606.2 1619,606 1619.2,614.4 1619.4,605 1619.6,603.5 1619.8,606.5 1620,604 1620.2,604.5 1620.4,607.8 1620.6,603.2 1620.8,611.2 1621,602.7 1621.2,605.5 1621.4,604.6 1621.7,604.6 1621.9,607.2 1622.1,607.7 1622.3,604.8 1622.5,610.6 1622.7,605.5 1622.9,608.5 1623.1,605.1 1623.3,596.2 1623.5,614 1623.7,605.4 1623.9,600.9 1624.1,611.7 1624.4,616.5 1624.6,611.5 1624.8,604.1 1625,612.7 1625.2,597.1 1625.4,612.7 1625.6,605.4 1625.8,606.4 1626,606.5 1626.2,607.2 1626.4,606 1626.6,604.1 1626.9,599 1627.1,609.8 1627.3,602.1 1627.5,606.3 1627.7,606.7 1627.9,603 1628.1,609.5" fill="none" stroke="#000" stroke-width="1.15" stroke-linejoin="round"/>
<g font-family="'Liberation Sans', Arial, sans-serif" font-size="26" fill="#000" stroke="#000" stroke-width="0.3">
<text transform="translate(1097.4,216.6) rotate(-90)" textLength="132.5" lengthAdjust="spacingAndGlyphs">38.21 (111)</text>
<text transform="translate(1158.3,481.8) rotate(-90)" textLength="132.5" lengthAdjust="spacingAndGlyphs">44.39 (200)</text>
<text transform="translate(1366.9,479.2) rotate(-90)" textLength="132.5" lengthAdjust="spacingAndGlyphs">64.49 (202)</text>
<text transform="translate(1508.3,490.4) rotate(-90)" textLength="132.5" lengthAdjust="spacingAndGlyphs">77.32 (311)</text>
<text transform="translate(1546.5,565.2) rotate(-90)" textLength="132.5" lengthAdjust="spacingAndGlyphs">81.95 (222)</text>
</g>
<text x="986.6" y="406.1" font-family="'Liberation Serif', 'Times New Roman', serif" font-weight="bold" font-size="38" text-anchor="middle">*</text>
<text x="1035.5" y="202.2" font-family="'Liberation Serif', 'Times New Roman', serif" font-weight="bold" font-size="32" text-anchor="middle">*</text>
<text x="1178.9" y="374" font-family="'Liberation Serif', 'Times New Roman', serif" font-weight="bold" font-size="32" text-anchor="middle">*</text>
<text x="1267.5" y="535.7" font-family="'Liberation Serif', 'Times New Roman', serif" font-weight="bold" font-size="32" text-anchor="middle">*</text>
<text x="1293.3" y="524" font-family="'Liberation Serif', 'Times New Roman', serif" font-weight="bold" font-size="32" text-anchor="middle">*</text>
</svg>
</body></html>
